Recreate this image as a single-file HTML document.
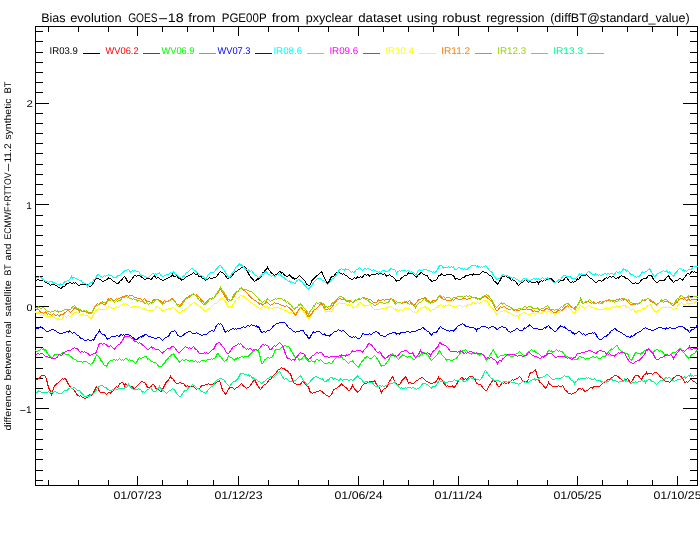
<!DOCTYPE html>
<html><head><meta charset="utf-8"><title>Bias evolution GOES-18</title>
<style>html,body{margin:0;padding:0;background:#fff;}svg{display:block;}text{font-family:"Liberation Sans",Arial,sans-serif;text-rendering:geometricPrecision;}</style>
</head><body>
<svg width="700" height="540" viewBox="0 0 700 540">
<rect width="700" height="540" fill="#fff"/>
<g shape-rendering="crispEdges">
<rect x="35" y="26" width="663" height="1" fill="#000"/>
<rect x="35" y="485" width="663" height="1" fill="#000"/>
<rect x="35" y="26" width="1" height="460" fill="#000"/>
<rect x="697" y="26" width="1" height="460" fill="#000"/>
<rect x="35" y="480" width="8" height="1" fill="#000"/>
<rect x="690" y="480" width="8" height="1" fill="#000"/>
<rect x="35" y="470" width="8" height="1" fill="#000"/>
<rect x="690" y="470" width="8" height="1" fill="#000"/>
<rect x="35" y="459" width="8" height="1" fill="#000"/>
<rect x="690" y="459" width="8" height="1" fill="#000"/>
<rect x="35" y="449" width="8" height="1" fill="#000"/>
<rect x="690" y="449" width="8" height="1" fill="#000"/>
<rect x="35" y="439" width="8" height="1" fill="#000"/>
<rect x="690" y="439" width="8" height="1" fill="#000"/>
<rect x="35" y="429" width="8" height="1" fill="#000"/>
<rect x="690" y="429" width="8" height="1" fill="#000"/>
<rect x="35" y="419" width="8" height="1" fill="#000"/>
<rect x="690" y="419" width="8" height="1" fill="#000"/>
<rect x="35" y="408" width="14" height="1" fill="#000"/>
<rect x="683" y="408" width="15" height="1" fill="#000"/>
<rect x="35" y="398" width="8" height="1" fill="#000"/>
<rect x="690" y="398" width="8" height="1" fill="#000"/>
<rect x="35" y="388" width="8" height="1" fill="#000"/>
<rect x="690" y="388" width="8" height="1" fill="#000"/>
<rect x="35" y="378" width="8" height="1" fill="#000"/>
<rect x="690" y="378" width="8" height="1" fill="#000"/>
<rect x="35" y="368" width="8" height="1" fill="#000"/>
<rect x="690" y="368" width="8" height="1" fill="#000"/>
<rect x="35" y="357" width="8" height="1" fill="#000"/>
<rect x="690" y="357" width="8" height="1" fill="#000"/>
<rect x="35" y="347" width="8" height="1" fill="#000"/>
<rect x="690" y="347" width="8" height="1" fill="#000"/>
<rect x="35" y="337" width="8" height="1" fill="#000"/>
<rect x="690" y="337" width="8" height="1" fill="#000"/>
<rect x="35" y="327" width="8" height="1" fill="#000"/>
<rect x="690" y="327" width="8" height="1" fill="#000"/>
<rect x="35" y="317" width="8" height="1" fill="#000"/>
<rect x="690" y="317" width="8" height="1" fill="#000"/>
<rect x="35" y="306" width="14" height="1" fill="#000"/>
<rect x="683" y="306" width="15" height="1" fill="#000"/>
<rect x="35" y="296" width="8" height="1" fill="#000"/>
<rect x="690" y="296" width="8" height="1" fill="#000"/>
<rect x="35" y="286" width="8" height="1" fill="#000"/>
<rect x="690" y="286" width="8" height="1" fill="#000"/>
<rect x="35" y="276" width="8" height="1" fill="#000"/>
<rect x="690" y="276" width="8" height="1" fill="#000"/>
<rect x="35" y="266" width="8" height="1" fill="#000"/>
<rect x="690" y="266" width="8" height="1" fill="#000"/>
<rect x="35" y="255" width="8" height="1" fill="#000"/>
<rect x="690" y="255" width="8" height="1" fill="#000"/>
<rect x="35" y="245" width="8" height="1" fill="#000"/>
<rect x="690" y="245" width="8" height="1" fill="#000"/>
<rect x="35" y="235" width="8" height="1" fill="#000"/>
<rect x="690" y="235" width="8" height="1" fill="#000"/>
<rect x="35" y="225" width="8" height="1" fill="#000"/>
<rect x="690" y="225" width="8" height="1" fill="#000"/>
<rect x="35" y="215" width="8" height="1" fill="#000"/>
<rect x="690" y="215" width="8" height="1" fill="#000"/>
<rect x="35" y="204" width="14" height="1" fill="#000"/>
<rect x="683" y="204" width="15" height="1" fill="#000"/>
<rect x="35" y="194" width="8" height="1" fill="#000"/>
<rect x="690" y="194" width="8" height="1" fill="#000"/>
<rect x="35" y="184" width="8" height="1" fill="#000"/>
<rect x="690" y="184" width="8" height="1" fill="#000"/>
<rect x="35" y="174" width="8" height="1" fill="#000"/>
<rect x="690" y="174" width="8" height="1" fill="#000"/>
<rect x="35" y="164" width="8" height="1" fill="#000"/>
<rect x="690" y="164" width="8" height="1" fill="#000"/>
<rect x="35" y="153" width="8" height="1" fill="#000"/>
<rect x="690" y="153" width="8" height="1" fill="#000"/>
<rect x="35" y="143" width="8" height="1" fill="#000"/>
<rect x="690" y="143" width="8" height="1" fill="#000"/>
<rect x="35" y="133" width="8" height="1" fill="#000"/>
<rect x="690" y="133" width="8" height="1" fill="#000"/>
<rect x="35" y="123" width="8" height="1" fill="#000"/>
<rect x="690" y="123" width="8" height="1" fill="#000"/>
<rect x="35" y="113" width="8" height="1" fill="#000"/>
<rect x="690" y="113" width="8" height="1" fill="#000"/>
<rect x="35" y="103" width="14" height="1" fill="#000"/>
<rect x="683" y="103" width="15" height="1" fill="#000"/>
<rect x="35" y="92" width="8" height="1" fill="#000"/>
<rect x="690" y="92" width="8" height="1" fill="#000"/>
<rect x="35" y="82" width="8" height="1" fill="#000"/>
<rect x="690" y="82" width="8" height="1" fill="#000"/>
<rect x="35" y="72" width="8" height="1" fill="#000"/>
<rect x="690" y="72" width="8" height="1" fill="#000"/>
<rect x="35" y="62" width="8" height="1" fill="#000"/>
<rect x="690" y="62" width="8" height="1" fill="#000"/>
<rect x="35" y="52" width="8" height="1" fill="#000"/>
<rect x="690" y="52" width="8" height="1" fill="#000"/>
<rect x="35" y="41" width="8" height="1" fill="#000"/>
<rect x="690" y="41" width="8" height="1" fill="#000"/>
<rect x="35" y="31" width="8" height="1" fill="#000"/>
<rect x="690" y="31" width="8" height="1" fill="#000"/>
<rect x="48" y="480" width="1" height="6" fill="#000"/>
<rect x="48" y="26" width="1" height="6" fill="#000"/>
<rect x="78" y="480" width="1" height="6" fill="#000"/>
<rect x="78" y="26" width="1" height="6" fill="#000"/>
<rect x="108" y="480" width="1" height="6" fill="#000"/>
<rect x="108" y="26" width="1" height="6" fill="#000"/>
<rect x="162" y="480" width="1" height="6" fill="#000"/>
<rect x="162" y="26" width="1" height="6" fill="#000"/>
<rect x="187" y="480" width="1" height="6" fill="#000"/>
<rect x="187" y="26" width="1" height="6" fill="#000"/>
<rect x="213" y="480" width="1" height="6" fill="#000"/>
<rect x="213" y="26" width="1" height="6" fill="#000"/>
<rect x="268" y="480" width="1" height="6" fill="#000"/>
<rect x="268" y="26" width="1" height="6" fill="#000"/>
<rect x="298" y="480" width="1" height="6" fill="#000"/>
<rect x="298" y="26" width="1" height="6" fill="#000"/>
<rect x="328" y="480" width="1" height="6" fill="#000"/>
<rect x="328" y="26" width="1" height="6" fill="#000"/>
<rect x="383" y="480" width="1" height="6" fill="#000"/>
<rect x="383" y="26" width="1" height="6" fill="#000"/>
<rect x="408" y="480" width="1" height="6" fill="#000"/>
<rect x="408" y="26" width="1" height="6" fill="#000"/>
<rect x="433" y="480" width="1" height="6" fill="#000"/>
<rect x="433" y="26" width="1" height="6" fill="#000"/>
<rect x="488" y="480" width="1" height="6" fill="#000"/>
<rect x="488" y="26" width="1" height="6" fill="#000"/>
<rect x="517" y="480" width="1" height="6" fill="#000"/>
<rect x="517" y="26" width="1" height="6" fill="#000"/>
<rect x="547" y="480" width="1" height="6" fill="#000"/>
<rect x="547" y="26" width="1" height="6" fill="#000"/>
<rect x="602" y="480" width="1" height="6" fill="#000"/>
<rect x="602" y="26" width="1" height="6" fill="#000"/>
<rect x="627" y="480" width="1" height="6" fill="#000"/>
<rect x="627" y="26" width="1" height="6" fill="#000"/>
<rect x="652" y="480" width="1" height="6" fill="#000"/>
<rect x="652" y="26" width="1" height="6" fill="#000"/>
<rect x="137" y="476" width="1" height="10" fill="#000"/>
<rect x="137" y="26" width="1" height="10" fill="#000"/>
<rect x="238" y="476" width="1" height="10" fill="#000"/>
<rect x="238" y="26" width="1" height="10" fill="#000"/>
<rect x="358" y="476" width="1" height="10" fill="#000"/>
<rect x="358" y="26" width="1" height="10" fill="#000"/>
<rect x="458" y="476" width="1" height="10" fill="#000"/>
<rect x="458" y="26" width="1" height="10" fill="#000"/>
<rect x="577" y="476" width="1" height="10" fill="#000"/>
<rect x="577" y="26" width="1" height="10" fill="#000"/>
<rect x="677" y="476" width="1" height="10" fill="#000"/>
<rect x="677" y="26" width="1" height="10" fill="#000"/>
</g>
<g>
<polyline points="35.5,279.5 36.5,280.5 37.5,279.5 38.5,279.5 39.5,280.5 40.5,280.5 41.5,280.5 42.5,280.5 43.5,279.5 44.5,280.5 45.5,282.5 46.5,282.5 47.5,283.5 48.5,283.5 49.5,284.5 50.5,285.5 51.5,284.5 52.5,284.5 53.5,284.5 54.5,284.5 55.5,285.5 56.5,285.5 57.5,286.5 58.5,287.5 59.5,287.5 60.5,288.5 61.5,288.5 62.5,286.5 63.5,286.5 64.5,286.5 65.5,285.5 66.5,283.5 67.5,283.5 68.5,283.5 69.5,282.5 70.5,282.5 71.5,283.5 72.5,283.5 73.5,282.5 74.5,283.5 75.5,282.5 76.5,283.5 77.5,284.5 78.5,285.5 79.5,285.5 80.5,284.5 81.5,284.5 82.5,284.5 83.5,284.5 84.5,284.5 85.5,284.5 86.5,284.5 87.5,284.5 88.5,285.5 89.5,286.5 90.5,286.5 91.5,285.5 92.5,284.5 93.5,282.5 94.5,281.5 95.5,278.5 96.5,278.5 97.5,278.5 98.5,278.5 99.5,279.5 100.5,279.5 101.5,280.5 102.5,281.5 103.5,281.5 104.5,280.5 105.5,280.5 106.5,279.5 107.5,279.5 108.5,277.5 109.5,278.5 110.5,278.5 111.5,279.5 112.5,280.5 113.5,281.5 114.5,281.5 115.5,282.5 116.5,283.5 117.5,283.5 118.5,283.5 119.5,281.5 120.5,280.5 121.5,280.5 122.5,278.5 123.5,277.5 124.5,276.5 125.5,277.5 126.5,279.5 127.5,281.5 128.5,282.5 129.5,282.5 130.5,280.5 131.5,279.5 132.5,278.5 133.5,276.5 134.5,275.5 135.5,275.5 136.5,276.5 137.5,275.5 138.5,275.5 139.5,275.5 140.5,275.5 141.5,277.5 142.5,277.5 143.5,278.5 144.5,279.5 145.5,279.5 146.5,278.5 147.5,278.5 148.5,278.5 149.5,278.5 150.5,279.5 151.5,279.5 152.5,277.5 153.5,276.5 154.5,275.5 155.5,277.5 156.5,278.5 157.5,277.5 158.5,277.5 159.5,278.5 160.5,279.5 161.5,279.5 162.5,280.5 163.5,280.5 164.5,279.5 165.5,279.5 166.5,278.5 167.5,278.5 168.5,277.5 169.5,277.5 170.5,276.5 171.5,276.5 172.5,274.5 173.5,276.5 174.5,276.5 175.5,276.5 176.5,275.5 177.5,276.5 178.5,278.5 179.5,278.5 180.5,278.5 181.5,280.5 182.5,279.5 183.5,279.5 184.5,278.5 185.5,277.5 186.5,276.5 187.5,276.5 188.5,275.5 189.5,275.5 190.5,274.5 191.5,274.5 192.5,273.5 193.5,272.5 194.5,273.5 195.5,274.5 196.5,274.5 197.5,273.5 198.5,276.5 199.5,276.5 200.5,275.5 201.5,277.5 202.5,278.5 203.5,278.5 204.5,279.5 205.5,280.5 206.5,279.5 207.5,279.5 208.5,278.5 209.5,277.5 210.5,278.5 211.5,278.5 212.5,278.5 213.5,277.5 214.5,277.5 215.5,277.5 216.5,276.5 217.5,275.5 218.5,273.5 219.5,272.5 220.5,271.5 221.5,272.5 222.5,272.5 223.5,273.5 224.5,274.5 225.5,275.5 226.5,277.5 227.5,278.5 228.5,278.5 229.5,277.5 230.5,277.5 231.5,276.5 232.5,275.5 233.5,273.5 234.5,272.5 235.5,271.5 236.5,271.5 237.5,270.5 238.5,269.5 239.5,269.5 240.5,268.5 241.5,267.5 242.5,267.5 243.5,266.5 244.5,266.5 245.5,267.5 246.5,269.5 247.5,271.5 248.5,273.5 249.5,275.5 250.5,276.5 251.5,278.5 252.5,278.5 253.5,280.5 254.5,281.5 255.5,280.5 256.5,280.5 257.5,278.5 258.5,279.5 259.5,277.5 260.5,277.5 261.5,275.5 262.5,272.5 263.5,272.5 264.5,271.5 265.5,269.5 266.5,269.5 267.5,267.5 268.5,269.5 269.5,270.5 270.5,271.5 271.5,273.5 272.5,273.5 273.5,274.5 274.5,275.5 275.5,274.5 276.5,274.5 277.5,273.5 278.5,272.5 279.5,271.5 280.5,271.5 281.5,273.5 282.5,272.5 283.5,273.5 284.5,275.5 285.5,275.5 286.5,276.5 287.5,276.5 288.5,275.5 289.5,274.5 290.5,276.5 291.5,276.5 292.5,278.5 293.5,277.5 294.5,279.5 295.5,278.5 296.5,278.5 297.5,277.5 298.5,276.5 299.5,275.5 300.5,276.5 301.5,277.5 302.5,278.5 303.5,279.5 304.5,280.5 305.5,281.5 306.5,284.5 307.5,284.5 308.5,285.5 309.5,285.5 310.5,284.5 311.5,281.5 312.5,279.5 313.5,279.5 314.5,277.5 315.5,277.5 316.5,275.5 317.5,275.5 318.5,274.5 319.5,273.5 320.5,272.5 321.5,271.5 322.5,273.5 323.5,276.5 324.5,277.5 325.5,280.5 326.5,281.5 327.5,283.5 328.5,282.5 329.5,280.5 330.5,278.5 331.5,276.5 332.5,276.5 333.5,276.5 334.5,275.5 335.5,273.5 336.5,272.5 337.5,272.5 338.5,271.5 339.5,272.5 340.5,273.5 341.5,273.5 342.5,274.5 343.5,273.5 344.5,274.5 345.5,275.5 346.5,275.5 347.5,276.5 348.5,277.5 349.5,278.5 350.5,278.5 351.5,279.5 352.5,279.5 353.5,278.5 354.5,277.5 355.5,278.5 356.5,278.5 357.5,276.5 358.5,277.5 359.5,277.5 360.5,276.5 361.5,277.5 362.5,277.5 363.5,275.5 364.5,274.5 365.5,274.5 366.5,275.5 367.5,274.5 368.5,274.5 369.5,276.5 370.5,275.5 371.5,274.5 372.5,274.5 373.5,274.5 374.5,274.5 375.5,274.5 376.5,273.5 377.5,273.5 378.5,274.5 379.5,273.5 380.5,273.5 381.5,273.5 382.5,274.5 383.5,274.5 384.5,273.5 385.5,274.5 386.5,276.5 387.5,275.5 388.5,275.5 389.5,274.5 390.5,275.5 391.5,276.5 392.5,276.5 393.5,277.5 394.5,278.5 395.5,279.5 396.5,281.5 397.5,280.5 398.5,280.5 399.5,280.5 400.5,279.5 401.5,277.5 402.5,277.5 403.5,276.5 404.5,275.5 405.5,275.5 406.5,275.5 407.5,274.5 408.5,272.5 409.5,273.5 410.5,273.5 411.5,273.5 412.5,273.5 413.5,274.5 414.5,275.5 415.5,276.5 416.5,277.5 417.5,275.5 418.5,274.5 419.5,274.5 420.5,272.5 421.5,272.5 422.5,273.5 423.5,274.5 424.5,274.5 425.5,275.5 426.5,275.5 427.5,275.5 428.5,278.5 429.5,279.5 430.5,279.5 431.5,281.5 432.5,281.5 433.5,280.5 434.5,280.5 435.5,280.5 436.5,279.5 437.5,278.5 438.5,275.5 439.5,275.5 440.5,275.5 441.5,273.5 442.5,274.5 443.5,275.5 444.5,275.5 445.5,275.5 446.5,274.5 447.5,274.5 448.5,274.5 449.5,274.5 450.5,274.5 451.5,274.5 452.5,275.5 453.5,275.5 454.5,277.5 455.5,279.5 456.5,278.5 457.5,278.5 458.5,279.5 459.5,279.5 460.5,279.5 461.5,278.5 462.5,277.5 463.5,277.5 464.5,277.5 465.5,275.5 466.5,275.5 467.5,275.5 468.5,275.5 469.5,274.5 470.5,274.5 471.5,274.5 472.5,275.5 473.5,273.5 474.5,274.5 475.5,274.5 476.5,274.5 477.5,274.5 478.5,274.5 479.5,274.5 480.5,273.5 481.5,272.5 482.5,271.5 483.5,271.5 484.5,272.5 485.5,272.5 486.5,272.5 487.5,273.5 488.5,274.5 489.5,275.5 490.5,275.5 491.5,276.5 492.5,277.5 493.5,280.5 494.5,281.5 495.5,281.5 496.5,283.5 497.5,284.5 498.5,282.5 499.5,281.5 500.5,279.5 501.5,277.5 502.5,276.5 503.5,276.5 504.5,276.5 505.5,275.5 506.5,276.5 507.5,277.5 508.5,277.5 509.5,277.5 510.5,279.5 511.5,280.5 512.5,279.5 513.5,280.5 514.5,280.5 515.5,281.5 516.5,282.5 517.5,284.5 518.5,285.5 519.5,284.5 520.5,283.5 521.5,282.5 522.5,282.5 523.5,281.5 524.5,280.5 525.5,279.5 526.5,280.5 527.5,281.5 528.5,282.5 529.5,281.5 530.5,281.5 531.5,282.5 532.5,282.5 533.5,282.5 534.5,282.5 535.5,282.5 536.5,281.5 537.5,281.5 538.5,283.5 539.5,281.5 540.5,281.5 541.5,280.5 542.5,281.5 543.5,280.5 544.5,279.5 545.5,280.5 546.5,279.5 547.5,279.5 548.5,279.5 549.5,278.5 550.5,278.5 551.5,278.5 552.5,280.5 553.5,280.5 554.5,282.5 555.5,282.5 556.5,281.5 557.5,281.5 558.5,282.5 559.5,281.5 560.5,280.5 561.5,280.5 562.5,280.5 563.5,280.5 564.5,278.5 565.5,277.5 566.5,277.5 567.5,278.5 568.5,280.5 569.5,281.5 570.5,282.5 571.5,282.5 572.5,281.5 573.5,282.5 574.5,281.5 575.5,281.5 576.5,280.5 577.5,278.5 578.5,279.5 579.5,278.5 580.5,276.5 581.5,275.5 582.5,275.5 583.5,275.5 584.5,275.5 585.5,275.5 586.5,274.5 587.5,275.5 588.5,276.5 589.5,277.5 590.5,278.5 591.5,278.5 592.5,279.5 593.5,280.5 594.5,281.5 595.5,282.5 596.5,282.5 597.5,281.5 598.5,280.5 599.5,280.5 600.5,280.5 601.5,281.5 602.5,280.5 603.5,280.5 604.5,278.5 605.5,278.5 606.5,277.5 607.5,278.5 608.5,277.5 609.5,276.5 610.5,276.5 611.5,277.5 612.5,276.5 613.5,276.5 614.5,277.5 615.5,278.5 616.5,278.5 617.5,277.5 618.5,278.5 619.5,276.5 620.5,276.5 621.5,275.5 622.5,276.5 623.5,276.5 624.5,276.5 625.5,278.5 626.5,278.5 627.5,278.5 628.5,279.5 629.5,280.5 630.5,281.5 631.5,282.5 632.5,283.5 633.5,283.5 634.5,283.5 635.5,282.5 636.5,283.5 637.5,283.5 638.5,283.5 639.5,282.5 640.5,281.5 641.5,279.5 642.5,279.5 643.5,278.5 644.5,278.5 645.5,278.5 646.5,278.5 647.5,276.5 648.5,275.5 649.5,275.5 650.5,275.5 651.5,275.5 652.5,277.5 653.5,279.5 654.5,280.5 655.5,281.5 656.5,282.5 657.5,282.5 658.5,281.5 659.5,280.5 660.5,280.5 661.5,280.5 662.5,280.5 663.5,280.5 664.5,280.5 665.5,278.5 666.5,277.5 667.5,276.5 668.5,275.5 669.5,277.5 670.5,279.5 671.5,279.5 672.5,281.5 673.5,282.5 674.5,281.5 675.5,280.5 676.5,280.5 677.5,280.5 678.5,279.5 679.5,278.5 680.5,278.5 681.5,279.5 682.5,280.5 683.5,278.5 684.5,277.5 685.5,276.5 686.5,274.5 687.5,273.5 688.5,273.5 689.5,274.5 690.5,273.5 691.5,271.5 692.5,271.5 693.5,272.5 694.5,271.5 695.5,272.5 696.5,272.5 697.5,272.5" fill="none" stroke="#000000" stroke-width="1" shape-rendering="crispEdges"/>
<polyline points="35.5,380.5 36.5,379.5 37.5,379.5 38.5,378.5 39.5,378.5 40.5,376.5 41.5,375.5 42.5,375.5 43.5,375.5 44.5,375.5 45.5,376.5 46.5,379.5 47.5,383.5 48.5,387.5 49.5,389.5 50.5,391.5 51.5,395.5 52.5,391.5 53.5,388.5 54.5,385.5 55.5,385.5 56.5,383.5 57.5,383.5 58.5,382.5 59.5,381.5 60.5,380.5 61.5,379.5 62.5,378.5 63.5,379.5 64.5,378.5 65.5,378.5 66.5,380.5 67.5,382.5 68.5,384.5 69.5,385.5 70.5,387.5 71.5,388.5 72.5,388.5 73.5,389.5 74.5,390.5 75.5,392.5 76.5,393.5 77.5,395.5 78.5,395.5 79.5,396.5 80.5,395.5 81.5,396.5 82.5,397.5 83.5,397.5 84.5,398.5 85.5,398.5 86.5,397.5 87.5,397.5 88.5,396.5 89.5,394.5 90.5,395.5 91.5,395.5 92.5,394.5 93.5,392.5 94.5,390.5 95.5,388.5 96.5,386.5 97.5,387.5 98.5,389.5 99.5,391.5 100.5,392.5 101.5,392.5 102.5,392.5 103.5,392.5 104.5,392.5 105.5,393.5 106.5,394.5 107.5,393.5 108.5,392.5 109.5,392.5 110.5,393.5 111.5,391.5 112.5,391.5 113.5,390.5 114.5,388.5 115.5,387.5 116.5,386.5 117.5,387.5 118.5,386.5 119.5,383.5 120.5,383.5 121.5,382.5 122.5,382.5 123.5,383.5 124.5,385.5 125.5,383.5 126.5,384.5 127.5,385.5 128.5,385.5 129.5,385.5 130.5,386.5 131.5,386.5 132.5,386.5 133.5,388.5 134.5,388.5 135.5,387.5 136.5,386.5 137.5,385.5 138.5,384.5 139.5,383.5 140.5,382.5 141.5,381.5 142.5,381.5 143.5,382.5 144.5,382.5 145.5,383.5 146.5,385.5 147.5,387.5 148.5,387.5 149.5,387.5 150.5,387.5 151.5,385.5 152.5,384.5 153.5,384.5 154.5,385.5 155.5,387.5 156.5,389.5 157.5,389.5 158.5,389.5 159.5,390.5 160.5,391.5 161.5,391.5 162.5,389.5 163.5,387.5 164.5,385.5 165.5,383.5 166.5,381.5 167.5,381.5 168.5,379.5 169.5,378.5 170.5,376.5 171.5,378.5 172.5,378.5 173.5,379.5 174.5,381.5 175.5,382.5 176.5,383.5 177.5,383.5 178.5,383.5 179.5,382.5 180.5,382.5 181.5,383.5 182.5,383.5 183.5,383.5 184.5,384.5 185.5,386.5 186.5,386.5 187.5,385.5 188.5,386.5 189.5,386.5 190.5,386.5 191.5,386.5 192.5,386.5 193.5,386.5 194.5,387.5 195.5,388.5 196.5,389.5 197.5,388.5 198.5,388.5 199.5,388.5 200.5,387.5 201.5,385.5 202.5,385.5 203.5,385.5 204.5,385.5 205.5,384.5 206.5,384.5 207.5,384.5 208.5,383.5 209.5,384.5 210.5,384.5 211.5,384.5 212.5,384.5 213.5,383.5 214.5,382.5 215.5,383.5 216.5,382.5 217.5,381.5 218.5,381.5 219.5,380.5 220.5,383.5 221.5,386.5 222.5,390.5 223.5,391.5 224.5,392.5 225.5,394.5 226.5,393.5 227.5,390.5 228.5,389.5 229.5,387.5 230.5,387.5 231.5,387.5 232.5,387.5 233.5,388.5 234.5,389.5 235.5,388.5 236.5,387.5 237.5,387.5 238.5,386.5 239.5,385.5 240.5,384.5 241.5,383.5 242.5,384.5 243.5,386.5 244.5,386.5 245.5,387.5 246.5,388.5 247.5,387.5 248.5,387.5 249.5,386.5 250.5,385.5 251.5,383.5 252.5,382.5 253.5,380.5 254.5,379.5 255.5,381.5 256.5,383.5 257.5,385.5 258.5,386.5 259.5,388.5 260.5,389.5 261.5,388.5 262.5,386.5 263.5,385.5 264.5,384.5 265.5,384.5 266.5,383.5 267.5,382.5 268.5,380.5 269.5,379.5 270.5,379.5 271.5,378.5 272.5,376.5 273.5,375.5 274.5,374.5 275.5,373.5 276.5,372.5 277.5,370.5 278.5,369.5 279.5,369.5 280.5,368.5 281.5,367.5 282.5,368.5 283.5,368.5 284.5,368.5 285.5,370.5 286.5,370.5 287.5,370.5 288.5,372.5 289.5,373.5 290.5,373.5 291.5,377.5 292.5,379.5 293.5,382.5 294.5,383.5 295.5,383.5 296.5,384.5 297.5,384.5 298.5,384.5 299.5,384.5 300.5,384.5 301.5,382.5 302.5,381.5 303.5,381.5 304.5,383.5 305.5,384.5 306.5,385.5 307.5,386.5 308.5,386.5 309.5,390.5 310.5,392.5 311.5,392.5 312.5,393.5 313.5,392.5 314.5,392.5 315.5,392.5 316.5,391.5 317.5,391.5 318.5,391.5 319.5,390.5 320.5,390.5 321.5,391.5 322.5,391.5 323.5,393.5 324.5,393.5 325.5,394.5 326.5,395.5 327.5,395.5 328.5,396.5 329.5,396.5 330.5,395.5 331.5,394.5 332.5,392.5 333.5,389.5 334.5,389.5 335.5,388.5 336.5,388.5 337.5,387.5 338.5,386.5 339.5,386.5 340.5,384.5 341.5,383.5 342.5,385.5 343.5,385.5 344.5,386.5 345.5,387.5 346.5,387.5 347.5,389.5 348.5,390.5 349.5,390.5 350.5,389.5 351.5,387.5 352.5,385.5 353.5,387.5 354.5,388.5 355.5,390.5 356.5,390.5 357.5,392.5 358.5,391.5 359.5,390.5 360.5,389.5 361.5,386.5 362.5,385.5 363.5,384.5 364.5,383.5 365.5,383.5 366.5,383.5 367.5,382.5 368.5,382.5 369.5,381.5 370.5,381.5 371.5,381.5 372.5,381.5 373.5,381.5 374.5,380.5 375.5,382.5 376.5,384.5 377.5,385.5 378.5,386.5 379.5,387.5 380.5,390.5 381.5,392.5 382.5,390.5 383.5,389.5 384.5,388.5 385.5,388.5 386.5,387.5 387.5,385.5 388.5,383.5 389.5,380.5 390.5,380.5 391.5,377.5 392.5,376.5 393.5,378.5 394.5,381.5 395.5,382.5 396.5,383.5 397.5,384.5 398.5,384.5 399.5,384.5 400.5,383.5 401.5,381.5 402.5,379.5 403.5,379.5 404.5,377.5 405.5,376.5 406.5,378.5 407.5,380.5 408.5,383.5 409.5,382.5 410.5,382.5 411.5,383.5 412.5,383.5 413.5,383.5 414.5,382.5 415.5,381.5 416.5,380.5 417.5,380.5 418.5,379.5 419.5,378.5 420.5,378.5 421.5,377.5 422.5,377.5 423.5,378.5 424.5,379.5 425.5,380.5 426.5,381.5 427.5,381.5 428.5,382.5 429.5,382.5 430.5,383.5 431.5,383.5 432.5,383.5 433.5,382.5 434.5,382.5 435.5,382.5 436.5,380.5 437.5,379.5 438.5,377.5 439.5,379.5 440.5,378.5 441.5,379.5 442.5,380.5 443.5,383.5 444.5,383.5 445.5,385.5 446.5,386.5 447.5,385.5 448.5,386.5 449.5,386.5 450.5,386.5 451.5,386.5 452.5,385.5 453.5,387.5 454.5,387.5 455.5,385.5 456.5,384.5 457.5,382.5 458.5,380.5 459.5,379.5 460.5,378.5 461.5,377.5 462.5,377.5 463.5,379.5 464.5,379.5 465.5,378.5 466.5,379.5 467.5,378.5 468.5,377.5 469.5,376.5 470.5,376.5 471.5,376.5 472.5,376.5 473.5,377.5 474.5,378.5 475.5,380.5 476.5,383.5 477.5,383.5 478.5,384.5 479.5,384.5 480.5,384.5 481.5,385.5 482.5,387.5 483.5,388.5 484.5,389.5 485.5,390.5 486.5,390.5 487.5,389.5 488.5,386.5 489.5,385.5 490.5,383.5 491.5,382.5 492.5,380.5 493.5,380.5 494.5,381.5 495.5,380.5 496.5,383.5 497.5,385.5 498.5,386.5 499.5,386.5 500.5,385.5 501.5,383.5 502.5,382.5 503.5,383.5 504.5,382.5 505.5,383.5 506.5,383.5 507.5,382.5 508.5,383.5 509.5,381.5 510.5,381.5 511.5,380.5 512.5,379.5 513.5,380.5 514.5,379.5 515.5,379.5 516.5,378.5 517.5,378.5 518.5,377.5 519.5,376.5 520.5,377.5 521.5,378.5 522.5,381.5 523.5,381.5 524.5,381.5 525.5,381.5 526.5,381.5 527.5,381.5 528.5,378.5 529.5,374.5 530.5,372.5 531.5,372.5 532.5,372.5 533.5,371.5 534.5,370.5 535.5,369.5 536.5,373.5 537.5,376.5 538.5,378.5 539.5,382.5 540.5,382.5 541.5,383.5 542.5,384.5 543.5,385.5 544.5,387.5 545.5,388.5 546.5,386.5 547.5,385.5 548.5,382.5 549.5,384.5 550.5,384.5 551.5,385.5 552.5,386.5 553.5,386.5 554.5,386.5 555.5,386.5 556.5,386.5 557.5,386.5 558.5,385.5 559.5,386.5 560.5,386.5 561.5,386.5 562.5,385.5 563.5,386.5 564.5,389.5 565.5,390.5 566.5,390.5 567.5,392.5 568.5,393.5 569.5,393.5 570.5,393.5 571.5,394.5 572.5,393.5 573.5,393.5 574.5,392.5 575.5,392.5 576.5,391.5 577.5,390.5 578.5,388.5 579.5,388.5 580.5,388.5 581.5,389.5 582.5,388.5 583.5,389.5 584.5,391.5 585.5,391.5 586.5,390.5 587.5,390.5 588.5,389.5 589.5,388.5 590.5,387.5 591.5,387.5 592.5,388.5 593.5,386.5 594.5,386.5 595.5,386.5 596.5,386.5 597.5,386.5 598.5,386.5 599.5,386.5 600.5,385.5 601.5,384.5 602.5,383.5 603.5,382.5 604.5,382.5 605.5,381.5 606.5,380.5 607.5,379.5 608.5,379.5 609.5,379.5 610.5,379.5 611.5,377.5 612.5,377.5 613.5,376.5 614.5,375.5 615.5,375.5 616.5,375.5 617.5,376.5 618.5,376.5 619.5,378.5 620.5,378.5 621.5,379.5 622.5,380.5 623.5,380.5 624.5,379.5 625.5,379.5 626.5,379.5 627.5,378.5 628.5,379.5 629.5,381.5 630.5,382.5 631.5,381.5 632.5,380.5 633.5,378.5 634.5,376.5 635.5,375.5 636.5,375.5 637.5,375.5 638.5,375.5 639.5,377.5 640.5,378.5 641.5,379.5 642.5,377.5 643.5,375.5 644.5,374.5 645.5,374.5 646.5,372.5 647.5,374.5 648.5,373.5 649.5,373.5 650.5,373.5 651.5,373.5 652.5,374.5 653.5,373.5 654.5,372.5 655.5,372.5 656.5,372.5 657.5,373.5 658.5,374.5 659.5,375.5 660.5,377.5 661.5,377.5 662.5,378.5 663.5,379.5 664.5,380.5 665.5,381.5 666.5,381.5 667.5,381.5 668.5,381.5 669.5,382.5 670.5,381.5 671.5,380.5 672.5,379.5 673.5,377.5 674.5,377.5 675.5,376.5 676.5,375.5 677.5,375.5 678.5,375.5 679.5,375.5 680.5,376.5 681.5,376.5 682.5,378.5 683.5,379.5 684.5,382.5 685.5,382.5 686.5,381.5 687.5,382.5 688.5,381.5 689.5,380.5 690.5,379.5 691.5,379.5 692.5,380.5 693.5,381.5 694.5,381.5 695.5,382.5 696.5,383.5 697.5,384.5" fill="none" stroke="#ff0000" stroke-width="1" shape-rendering="crispEdges"/>
<polyline points="35.5,350.5 36.5,351.5 37.5,351.5 38.5,350.5 39.5,350.5 40.5,349.5 41.5,348.5 42.5,349.5 43.5,348.5 44.5,350.5 45.5,349.5 46.5,351.5 47.5,353.5 48.5,354.5 49.5,356.5 50.5,356.5 51.5,358.5 52.5,357.5 53.5,356.5 54.5,354.5 55.5,354.5 56.5,354.5 57.5,354.5 58.5,355.5 59.5,354.5 60.5,354.5 61.5,353.5 62.5,352.5 63.5,352.5 64.5,353.5 65.5,354.5 66.5,354.5 67.5,354.5 68.5,354.5 69.5,355.5 70.5,356.5 71.5,356.5 72.5,358.5 73.5,358.5 74.5,359.5 75.5,359.5 76.5,360.5 77.5,361.5 78.5,361.5 79.5,361.5 80.5,361.5 81.5,361.5 82.5,362.5 83.5,361.5 84.5,361.5 85.5,361.5 86.5,361.5 87.5,362.5 88.5,363.5 89.5,363.5 90.5,364.5 91.5,363.5 92.5,363.5 93.5,361.5 94.5,359.5 95.5,357.5 96.5,354.5 97.5,355.5 98.5,356.5 99.5,357.5 100.5,359.5 101.5,361.5 102.5,361.5 103.5,364.5 104.5,365.5 105.5,365.5 106.5,366.5 107.5,364.5 108.5,362.5 109.5,361.5 110.5,360.5 111.5,360.5 112.5,360.5 113.5,359.5 114.5,359.5 115.5,360.5 116.5,359.5 117.5,360.5 118.5,359.5 119.5,358.5 120.5,359.5 121.5,360.5 122.5,359.5 123.5,360.5 124.5,359.5 125.5,358.5 126.5,358.5 127.5,359.5 128.5,360.5 129.5,359.5 130.5,360.5 131.5,360.5 132.5,360.5 133.5,361.5 134.5,362.5 135.5,363.5 136.5,362.5 137.5,360.5 138.5,358.5 139.5,357.5 140.5,358.5 141.5,358.5 142.5,357.5 143.5,357.5 144.5,356.5 145.5,356.5 146.5,356.5 147.5,359.5 148.5,358.5 149.5,359.5 150.5,360.5 151.5,361.5 152.5,361.5 153.5,362.5 154.5,362.5 155.5,362.5 156.5,363.5 157.5,364.5 158.5,366.5 159.5,366.5 160.5,366.5 161.5,366.5 162.5,365.5 163.5,363.5 164.5,363.5 165.5,361.5 166.5,359.5 167.5,359.5 168.5,357.5 169.5,356.5 170.5,356.5 171.5,354.5 172.5,354.5 173.5,353.5 174.5,355.5 175.5,357.5 176.5,357.5 177.5,359.5 178.5,360.5 179.5,362.5 180.5,361.5 181.5,360.5 182.5,359.5 183.5,360.5 184.5,360.5 185.5,359.5 186.5,359.5 187.5,360.5 188.5,360.5 189.5,361.5 190.5,360.5 191.5,360.5 192.5,360.5 193.5,361.5 194.5,361.5 195.5,360.5 196.5,361.5 197.5,362.5 198.5,361.5 199.5,362.5 200.5,361.5 201.5,360.5 202.5,360.5 203.5,360.5 204.5,360.5 205.5,361.5 206.5,360.5 207.5,359.5 208.5,359.5 209.5,359.5 210.5,359.5 211.5,358.5 212.5,359.5 213.5,358.5 214.5,358.5 215.5,357.5 216.5,355.5 217.5,353.5 218.5,353.5 219.5,356.5 220.5,356.5 221.5,357.5 222.5,359.5 223.5,360.5 224.5,361.5 225.5,360.5 226.5,360.5 227.5,358.5 228.5,355.5 229.5,356.5 230.5,357.5 231.5,357.5 232.5,358.5 233.5,359.5 234.5,360.5 235.5,358.5 236.5,359.5 237.5,357.5 238.5,358.5 239.5,357.5 240.5,357.5 241.5,356.5 242.5,356.5 243.5,357.5 244.5,356.5 245.5,356.5 246.5,356.5 247.5,356.5 248.5,356.5 249.5,354.5 250.5,354.5 251.5,352.5 252.5,352.5 253.5,350.5 254.5,349.5 255.5,349.5 256.5,350.5 257.5,350.5 258.5,350.5 259.5,354.5 260.5,358.5 261.5,363.5 262.5,363.5 263.5,362.5 264.5,359.5 265.5,359.5 266.5,358.5 267.5,357.5 268.5,357.5 269.5,358.5 270.5,357.5 271.5,357.5 272.5,356.5 273.5,354.5 274.5,351.5 275.5,349.5 276.5,349.5 277.5,349.5 278.5,349.5 279.5,349.5 280.5,348.5 281.5,347.5 282.5,347.5 283.5,346.5 284.5,345.5 285.5,345.5 286.5,346.5 287.5,346.5 288.5,346.5 289.5,347.5 290.5,349.5 291.5,351.5 292.5,352.5 293.5,354.5 294.5,356.5 295.5,357.5 296.5,356.5 297.5,357.5 298.5,358.5 299.5,360.5 300.5,359.5 301.5,359.5 302.5,357.5 303.5,356.5 304.5,356.5 305.5,357.5 306.5,359.5 307.5,359.5 308.5,361.5 309.5,361.5 310.5,361.5 311.5,360.5 312.5,361.5 313.5,361.5 314.5,362.5 315.5,360.5 316.5,359.5 317.5,359.5 318.5,360.5 319.5,360.5 320.5,359.5 321.5,360.5 322.5,361.5 323.5,362.5 324.5,363.5 325.5,363.5 326.5,363.5 327.5,363.5 328.5,362.5 329.5,362.5 330.5,363.5 331.5,363.5 332.5,362.5 333.5,360.5 334.5,359.5 335.5,358.5 336.5,357.5 337.5,356.5 338.5,357.5 339.5,357.5 340.5,357.5 341.5,356.5 342.5,358.5 343.5,359.5 344.5,359.5 345.5,360.5 346.5,361.5 347.5,362.5 348.5,363.5 349.5,362.5 350.5,361.5 351.5,361.5 352.5,360.5 353.5,362.5 354.5,363.5 355.5,364.5 356.5,365.5 357.5,366.5 358.5,367.5 359.5,365.5 360.5,363.5 361.5,362.5 362.5,360.5 363.5,360.5 364.5,357.5 365.5,358.5 366.5,356.5 367.5,356.5 368.5,357.5 369.5,358.5 370.5,358.5 371.5,358.5 372.5,357.5 373.5,356.5 374.5,355.5 375.5,356.5 376.5,357.5 377.5,359.5 378.5,360.5 379.5,362.5 380.5,364.5 381.5,366.5 382.5,365.5 383.5,365.5 384.5,365.5 385.5,364.5 386.5,362.5 387.5,361.5 388.5,360.5 389.5,358.5 390.5,355.5 391.5,354.5 392.5,353.5 393.5,355.5 394.5,356.5 395.5,356.5 396.5,357.5 397.5,358.5 398.5,359.5 399.5,358.5 400.5,356.5 401.5,356.5 402.5,354.5 403.5,355.5 404.5,355.5 405.5,356.5 406.5,356.5 407.5,357.5 408.5,356.5 409.5,356.5 410.5,356.5 411.5,357.5 412.5,358.5 413.5,359.5 414.5,359.5 415.5,358.5 416.5,357.5 417.5,356.5 418.5,356.5 419.5,356.5 420.5,354.5 421.5,353.5 422.5,354.5 423.5,352.5 424.5,352.5 425.5,353.5 426.5,354.5 427.5,354.5 428.5,355.5 429.5,357.5 430.5,359.5 431.5,360.5 432.5,359.5 433.5,358.5 434.5,357.5 435.5,356.5 436.5,355.5 437.5,354.5 438.5,352.5 439.5,350.5 440.5,351.5 441.5,354.5 442.5,355.5 443.5,356.5 444.5,357.5 445.5,358.5 446.5,360.5 447.5,359.5 448.5,359.5 449.5,359.5 450.5,360.5 451.5,360.5 452.5,360.5 453.5,359.5 454.5,359.5 455.5,358.5 456.5,358.5 457.5,356.5 458.5,355.5 459.5,354.5 460.5,352.5 461.5,351.5 462.5,350.5 463.5,350.5 464.5,350.5 465.5,349.5 466.5,350.5 467.5,351.5 468.5,352.5 469.5,353.5 470.5,353.5 471.5,354.5 472.5,352.5 473.5,353.5 474.5,352.5 475.5,353.5 476.5,353.5 477.5,354.5 478.5,353.5 479.5,355.5 480.5,354.5 481.5,354.5 482.5,354.5 483.5,354.5 484.5,356.5 485.5,358.5 486.5,360.5 487.5,359.5 488.5,357.5 489.5,356.5 490.5,353.5 491.5,353.5 492.5,350.5 493.5,349.5 494.5,352.5 495.5,353.5 496.5,355.5 497.5,357.5 498.5,357.5 499.5,356.5 500.5,355.5 501.5,355.5 502.5,355.5 503.5,355.5 504.5,354.5 505.5,354.5 506.5,354.5 507.5,355.5 508.5,355.5 509.5,355.5 510.5,356.5 511.5,356.5 512.5,356.5 513.5,356.5 514.5,355.5 515.5,354.5 516.5,353.5 517.5,353.5 518.5,352.5 519.5,351.5 520.5,352.5 521.5,353.5 522.5,354.5 523.5,355.5 524.5,356.5 525.5,355.5 526.5,354.5 527.5,352.5 528.5,351.5 529.5,351.5 530.5,350.5 531.5,349.5 532.5,350.5 533.5,351.5 534.5,350.5 535.5,352.5 536.5,352.5 537.5,353.5 538.5,353.5 539.5,354.5 540.5,355.5 541.5,356.5 542.5,356.5 543.5,356.5 544.5,355.5 545.5,356.5 546.5,354.5 547.5,352.5 548.5,350.5 549.5,350.5 550.5,351.5 551.5,350.5 552.5,352.5 553.5,351.5 554.5,351.5 555.5,350.5 556.5,349.5 557.5,350.5 558.5,351.5 559.5,350.5 560.5,351.5 561.5,351.5 562.5,351.5 563.5,353.5 564.5,354.5 565.5,356.5 566.5,356.5 567.5,356.5 568.5,357.5 569.5,357.5 570.5,357.5 571.5,357.5 572.5,358.5 573.5,358.5 574.5,359.5 575.5,359.5 576.5,359.5 577.5,359.5 578.5,357.5 579.5,356.5 580.5,356.5 581.5,357.5 582.5,357.5 583.5,357.5 584.5,358.5 585.5,359.5 586.5,358.5 587.5,358.5 588.5,358.5 589.5,358.5 590.5,357.5 591.5,357.5 592.5,356.5 593.5,356.5 594.5,357.5 595.5,357.5 596.5,356.5 597.5,357.5 598.5,358.5 599.5,358.5 600.5,358.5 601.5,357.5 602.5,356.5 603.5,356.5 604.5,356.5 605.5,356.5 606.5,354.5 607.5,353.5 608.5,351.5 609.5,350.5 610.5,350.5 611.5,348.5 612.5,349.5 613.5,348.5 614.5,347.5 615.5,346.5 616.5,345.5 617.5,345.5 618.5,348.5 619.5,349.5 620.5,350.5 621.5,351.5 622.5,351.5 623.5,352.5 624.5,352.5 625.5,353.5 626.5,353.5 627.5,353.5 628.5,355.5 629.5,358.5 630.5,359.5 631.5,360.5 632.5,358.5 633.5,356.5 634.5,354.5 635.5,352.5 636.5,352.5 637.5,353.5 638.5,353.5 639.5,353.5 640.5,354.5 641.5,352.5 642.5,353.5 643.5,351.5 644.5,350.5 645.5,350.5 646.5,350.5 647.5,349.5 648.5,349.5 649.5,350.5 650.5,351.5 651.5,352.5 652.5,353.5 653.5,352.5 654.5,350.5 655.5,350.5 656.5,349.5 657.5,349.5 658.5,350.5 659.5,351.5 660.5,350.5 661.5,351.5 662.5,351.5 663.5,353.5 664.5,354.5 665.5,354.5 666.5,354.5 667.5,355.5 668.5,355.5 669.5,355.5 670.5,354.5 671.5,354.5 672.5,352.5 673.5,352.5 674.5,352.5 675.5,352.5 676.5,351.5 677.5,350.5 678.5,349.5 679.5,348.5 680.5,348.5 681.5,349.5 682.5,351.5 683.5,352.5 684.5,353.5 685.5,354.5 686.5,356.5 687.5,356.5 688.5,358.5 689.5,357.5 690.5,356.5 691.5,354.5 692.5,354.5 693.5,353.5 694.5,353.5 695.5,352.5 696.5,350.5 697.5,350.5" fill="none" stroke="#00ff00" stroke-width="1" shape-rendering="crispEdges"/>
<polyline points="35.5,329.5 36.5,328.5 37.5,328.5 38.5,328.5 39.5,327.5 40.5,326.5 41.5,327.5 42.5,328.5 43.5,328.5 44.5,329.5 45.5,330.5 46.5,331.5 47.5,331.5 48.5,331.5 49.5,330.5 50.5,330.5 51.5,329.5 52.5,329.5 53.5,329.5 54.5,330.5 55.5,330.5 56.5,331.5 57.5,332.5 58.5,332.5 59.5,333.5 60.5,333.5 61.5,333.5 62.5,333.5 63.5,332.5 64.5,332.5 65.5,332.5 66.5,331.5 67.5,331.5 68.5,332.5 69.5,330.5 70.5,331.5 71.5,332.5 72.5,333.5 73.5,332.5 74.5,332.5 75.5,333.5 76.5,334.5 77.5,335.5 78.5,335.5 79.5,336.5 80.5,338.5 81.5,338.5 82.5,338.5 83.5,339.5 84.5,340.5 85.5,340.5 86.5,340.5 87.5,339.5 88.5,339.5 89.5,340.5 90.5,340.5 91.5,340.5 92.5,339.5 93.5,340.5 94.5,338.5 95.5,336.5 96.5,334.5 97.5,333.5 98.5,332.5 99.5,330.5 100.5,332.5 101.5,333.5 102.5,334.5 103.5,334.5 104.5,334.5 105.5,336.5 106.5,337.5 107.5,339.5 108.5,338.5 109.5,338.5 110.5,337.5 111.5,336.5 112.5,336.5 113.5,336.5 114.5,336.5 115.5,336.5 116.5,335.5 117.5,335.5 118.5,336.5 119.5,336.5 120.5,334.5 121.5,334.5 122.5,335.5 123.5,334.5 124.5,335.5 125.5,334.5 126.5,334.5 127.5,334.5 128.5,334.5 129.5,335.5 130.5,335.5 131.5,336.5 132.5,337.5 133.5,337.5 134.5,339.5 135.5,339.5 136.5,339.5 137.5,339.5 138.5,337.5 139.5,337.5 140.5,336.5 141.5,337.5 142.5,335.5 143.5,336.5 144.5,334.5 145.5,334.5 146.5,334.5 147.5,335.5 148.5,336.5 149.5,336.5 150.5,336.5 151.5,337.5 152.5,337.5 153.5,337.5 154.5,338.5 155.5,338.5 156.5,338.5 157.5,337.5 158.5,337.5 159.5,337.5 160.5,338.5 161.5,339.5 162.5,340.5 163.5,339.5 164.5,338.5 165.5,337.5 166.5,337.5 167.5,336.5 168.5,336.5 169.5,334.5 170.5,332.5 171.5,331.5 172.5,331.5 173.5,331.5 174.5,330.5 175.5,331.5 176.5,332.5 177.5,335.5 178.5,335.5 179.5,336.5 180.5,336.5 181.5,336.5 182.5,335.5 183.5,335.5 184.5,333.5 185.5,333.5 186.5,332.5 187.5,332.5 188.5,331.5 189.5,331.5 190.5,331.5 191.5,332.5 192.5,333.5 193.5,333.5 194.5,333.5 195.5,333.5 196.5,332.5 197.5,333.5 198.5,333.5 199.5,334.5 200.5,334.5 201.5,335.5 202.5,335.5 203.5,334.5 204.5,334.5 205.5,334.5 206.5,334.5 207.5,333.5 208.5,332.5 209.5,331.5 210.5,331.5 211.5,330.5 212.5,330.5 213.5,331.5 214.5,330.5 215.5,327.5 216.5,325.5 217.5,324.5 218.5,323.5 219.5,324.5 220.5,323.5 221.5,324.5 222.5,325.5 223.5,328.5 224.5,330.5 225.5,332.5 226.5,331.5 227.5,330.5 228.5,331.5 229.5,330.5 230.5,329.5 231.5,329.5 232.5,328.5 233.5,328.5 234.5,329.5 235.5,328.5 236.5,329.5 237.5,328.5 238.5,328.5 239.5,328.5 240.5,328.5 241.5,327.5 242.5,327.5 243.5,326.5 244.5,327.5 245.5,327.5 246.5,326.5 247.5,325.5 248.5,325.5 249.5,326.5 250.5,325.5 251.5,324.5 252.5,325.5 253.5,325.5 254.5,325.5 255.5,326.5 256.5,325.5 257.5,327.5 258.5,326.5 259.5,328.5 260.5,330.5 261.5,332.5 262.5,332.5 263.5,331.5 264.5,331.5 265.5,332.5 266.5,331.5 267.5,330.5 268.5,330.5 269.5,330.5 270.5,329.5 271.5,328.5 272.5,327.5 273.5,325.5 274.5,325.5 275.5,324.5 276.5,323.5 277.5,323.5 278.5,323.5 279.5,322.5 280.5,322.5 281.5,322.5 282.5,322.5 283.5,322.5 284.5,322.5 285.5,323.5 286.5,324.5 287.5,326.5 288.5,327.5 289.5,328.5 290.5,328.5 291.5,329.5 292.5,330.5 293.5,331.5 294.5,331.5 295.5,332.5 296.5,331.5 297.5,331.5 298.5,331.5 299.5,331.5 300.5,330.5 301.5,330.5 302.5,330.5 303.5,330.5 304.5,333.5 305.5,334.5 306.5,334.5 307.5,336.5 308.5,338.5 309.5,338.5 310.5,336.5 311.5,334.5 312.5,333.5 313.5,331.5 314.5,332.5 315.5,332.5 316.5,331.5 317.5,331.5 318.5,331.5 319.5,331.5 320.5,332.5 321.5,333.5 322.5,334.5 323.5,334.5 324.5,333.5 325.5,335.5 326.5,335.5 327.5,335.5 328.5,335.5 329.5,336.5 330.5,334.5 331.5,334.5 332.5,333.5 333.5,332.5 334.5,331.5 335.5,331.5 336.5,331.5 337.5,330.5 338.5,329.5 339.5,330.5 340.5,330.5 341.5,331.5 342.5,330.5 343.5,330.5 344.5,331.5 345.5,332.5 346.5,333.5 347.5,334.5 348.5,335.5 349.5,336.5 350.5,336.5 351.5,337.5 352.5,337.5 353.5,336.5 354.5,337.5 355.5,336.5 356.5,337.5 357.5,338.5 358.5,338.5 359.5,338.5 360.5,337.5 361.5,336.5 362.5,333.5 363.5,333.5 364.5,334.5 365.5,334.5 366.5,334.5 367.5,334.5 368.5,334.5 369.5,333.5 370.5,334.5 371.5,334.5 372.5,333.5 373.5,332.5 374.5,332.5 375.5,331.5 376.5,331.5 377.5,332.5 378.5,332.5 379.5,334.5 380.5,335.5 381.5,335.5 382.5,335.5 383.5,336.5 384.5,336.5 385.5,336.5 386.5,335.5 387.5,334.5 388.5,334.5 389.5,333.5 390.5,333.5 391.5,333.5 392.5,332.5 393.5,332.5 394.5,332.5 395.5,332.5 396.5,334.5 397.5,333.5 398.5,333.5 399.5,334.5 400.5,332.5 401.5,332.5 402.5,332.5 403.5,332.5 404.5,332.5 405.5,332.5 406.5,331.5 407.5,331.5 408.5,331.5 409.5,332.5 410.5,332.5 411.5,331.5 412.5,331.5 413.5,331.5 414.5,331.5 415.5,331.5 416.5,330.5 417.5,330.5 418.5,329.5 419.5,329.5 420.5,329.5 421.5,328.5 422.5,327.5 423.5,327.5 424.5,329.5 425.5,329.5 426.5,330.5 427.5,331.5 428.5,331.5 429.5,332.5 430.5,334.5 431.5,335.5 432.5,333.5 433.5,332.5 434.5,332.5 435.5,332.5 436.5,332.5 437.5,330.5 438.5,329.5 439.5,327.5 440.5,326.5 441.5,327.5 442.5,328.5 443.5,328.5 444.5,329.5 445.5,329.5 446.5,330.5 447.5,330.5 448.5,330.5 449.5,331.5 450.5,330.5 451.5,330.5 452.5,330.5 453.5,331.5 454.5,329.5 455.5,329.5 456.5,327.5 457.5,326.5 458.5,325.5 459.5,325.5 460.5,324.5 461.5,324.5 462.5,323.5 463.5,324.5 464.5,324.5 465.5,326.5 466.5,326.5 467.5,326.5 468.5,326.5 469.5,327.5 470.5,327.5 471.5,327.5 472.5,327.5 473.5,327.5 474.5,328.5 475.5,328.5 476.5,330.5 477.5,328.5 478.5,328.5 479.5,328.5 480.5,327.5 481.5,326.5 482.5,326.5 483.5,326.5 484.5,326.5 485.5,326.5 486.5,327.5 487.5,327.5 488.5,328.5 489.5,327.5 490.5,327.5 491.5,326.5 492.5,326.5 493.5,326.5 494.5,327.5 495.5,327.5 496.5,329.5 497.5,329.5 498.5,328.5 499.5,327.5 500.5,327.5 501.5,326.5 502.5,326.5 503.5,327.5 504.5,327.5 505.5,327.5 506.5,328.5 507.5,330.5 508.5,331.5 509.5,331.5 510.5,332.5 511.5,331.5 512.5,331.5 513.5,330.5 514.5,330.5 515.5,329.5 516.5,328.5 517.5,328.5 518.5,329.5 519.5,330.5 520.5,330.5 521.5,330.5 522.5,330.5 523.5,329.5 524.5,327.5 525.5,328.5 526.5,327.5 527.5,326.5 528.5,326.5 529.5,324.5 530.5,325.5 531.5,326.5 532.5,327.5 533.5,328.5 534.5,328.5 535.5,328.5 536.5,328.5 537.5,328.5 538.5,329.5 539.5,329.5 540.5,329.5 541.5,329.5 542.5,329.5 543.5,328.5 544.5,327.5 545.5,328.5 546.5,326.5 547.5,326.5 548.5,325.5 549.5,326.5 550.5,328.5 551.5,328.5 552.5,329.5 553.5,330.5 554.5,331.5 555.5,331.5 556.5,330.5 557.5,329.5 558.5,327.5 559.5,327.5 560.5,325.5 561.5,326.5 562.5,326.5 563.5,327.5 564.5,326.5 565.5,328.5 566.5,328.5 567.5,329.5 568.5,330.5 569.5,330.5 570.5,330.5 571.5,331.5 572.5,333.5 573.5,332.5 574.5,334.5 575.5,333.5 576.5,333.5 577.5,332.5 578.5,331.5 579.5,331.5 580.5,332.5 581.5,333.5 582.5,334.5 583.5,333.5 584.5,334.5 585.5,335.5 586.5,334.5 587.5,334.5 588.5,333.5 589.5,333.5 590.5,333.5 591.5,333.5 592.5,332.5 593.5,333.5 594.5,332.5 595.5,333.5 596.5,335.5 597.5,337.5 598.5,338.5 599.5,339.5 600.5,339.5 601.5,339.5 602.5,338.5 603.5,337.5 604.5,336.5 605.5,336.5 606.5,336.5 607.5,334.5 608.5,334.5 609.5,333.5 610.5,331.5 611.5,330.5 612.5,330.5 613.5,329.5 614.5,328.5 615.5,328.5 616.5,330.5 617.5,330.5 618.5,331.5 619.5,331.5 620.5,332.5 621.5,332.5 622.5,333.5 623.5,334.5 624.5,334.5 625.5,335.5 626.5,336.5 627.5,336.5 628.5,336.5 629.5,337.5 630.5,337.5 631.5,335.5 632.5,336.5 633.5,335.5 634.5,335.5 635.5,333.5 636.5,333.5 637.5,332.5 638.5,332.5 639.5,331.5 640.5,331.5 641.5,330.5 642.5,329.5 643.5,328.5 644.5,328.5 645.5,327.5 646.5,328.5 647.5,328.5 648.5,329.5 649.5,329.5 650.5,329.5 651.5,330.5 652.5,330.5 653.5,330.5 654.5,329.5 655.5,329.5 656.5,328.5 657.5,328.5 658.5,327.5 659.5,327.5 660.5,327.5 661.5,327.5 662.5,328.5 663.5,328.5 664.5,328.5 665.5,329.5 666.5,327.5 667.5,328.5 668.5,328.5 669.5,327.5 670.5,327.5 671.5,328.5 672.5,328.5 673.5,328.5 674.5,328.5 675.5,328.5 676.5,327.5 677.5,327.5 678.5,326.5 679.5,326.5 680.5,326.5 681.5,326.5 682.5,326.5 683.5,327.5 684.5,327.5 685.5,329.5 686.5,329.5 687.5,329.5 688.5,331.5 689.5,332.5 690.5,331.5 691.5,329.5 692.5,329.5 693.5,329.5 694.5,328.5 695.5,327.5 696.5,326.5 697.5,324.5" fill="none" stroke="#0000ff" stroke-width="1" shape-rendering="crispEdges"/>
<polyline points="35.5,277.5 36.5,277.5 37.5,277.5 38.5,277.5 39.5,276.5 40.5,277.5 41.5,277.5 42.5,279.5 43.5,279.5 44.5,280.5 45.5,281.5 46.5,281.5 47.5,281.5 48.5,282.5 49.5,281.5 50.5,281.5 51.5,281.5 52.5,281.5 53.5,283.5 54.5,282.5 55.5,283.5 56.5,283.5 57.5,284.5 58.5,284.5 59.5,285.5 60.5,283.5 61.5,284.5 62.5,284.5 63.5,283.5 64.5,281.5 65.5,281.5 66.5,281.5 67.5,280.5 68.5,280.5 69.5,279.5 70.5,278.5 71.5,276.5 72.5,278.5 73.5,277.5 74.5,277.5 75.5,278.5 76.5,278.5 77.5,279.5 78.5,279.5 79.5,280.5 80.5,280.5 81.5,280.5 82.5,283.5 83.5,282.5 84.5,283.5 85.5,283.5 86.5,284.5 87.5,286.5 88.5,284.5 89.5,283.5 90.5,282.5 91.5,282.5 92.5,282.5 93.5,279.5 94.5,279.5 95.5,278.5 96.5,276.5 97.5,274.5 98.5,274.5 99.5,275.5 100.5,276.5 101.5,276.5 102.5,277.5 103.5,276.5 104.5,275.5 105.5,276.5 106.5,275.5 107.5,275.5 108.5,274.5 109.5,275.5 110.5,275.5 111.5,275.5 112.5,276.5 113.5,277.5 114.5,277.5 115.5,277.5 116.5,277.5 117.5,275.5 118.5,275.5 119.5,275.5 120.5,274.5 121.5,273.5 122.5,272.5 123.5,272.5 124.5,270.5 125.5,270.5 126.5,270.5 127.5,269.5 128.5,269.5 129.5,270.5 130.5,272.5 131.5,271.5 132.5,270.5 133.5,271.5 134.5,270.5 135.5,270.5 136.5,271.5 137.5,271.5 138.5,271.5 139.5,272.5 140.5,275.5 141.5,275.5 142.5,275.5 143.5,275.5 144.5,276.5 145.5,276.5 146.5,277.5 147.5,277.5 148.5,277.5 149.5,276.5 150.5,275.5 151.5,274.5 152.5,273.5 153.5,273.5 154.5,274.5 155.5,273.5 156.5,274.5 157.5,273.5 158.5,273.5 159.5,272.5 160.5,275.5 161.5,275.5 162.5,276.5 163.5,276.5 164.5,275.5 165.5,275.5 166.5,274.5 167.5,274.5 168.5,274.5 169.5,273.5 170.5,272.5 171.5,273.5 172.5,272.5 173.5,271.5 174.5,273.5 175.5,274.5 176.5,274.5 177.5,275.5 178.5,276.5 179.5,277.5 180.5,277.5 181.5,278.5 182.5,277.5 183.5,275.5 184.5,276.5 185.5,273.5 186.5,272.5 187.5,272.5 188.5,271.5 189.5,270.5 190.5,269.5 191.5,268.5 192.5,268.5 193.5,269.5 194.5,270.5 195.5,270.5 196.5,272.5 197.5,272.5 198.5,273.5 199.5,274.5 200.5,275.5 201.5,275.5 202.5,276.5 203.5,276.5 204.5,277.5 205.5,279.5 206.5,278.5 207.5,275.5 208.5,274.5 209.5,273.5 210.5,272.5 211.5,272.5 212.5,272.5 213.5,272.5 214.5,271.5 215.5,270.5 216.5,268.5 217.5,268.5 218.5,266.5 219.5,265.5 220.5,265.5 221.5,266.5 222.5,268.5 223.5,269.5 224.5,270.5 225.5,272.5 226.5,274.5 227.5,275.5 228.5,277.5 229.5,277.5 230.5,276.5 231.5,274.5 232.5,272.5 233.5,271.5 234.5,270.5 235.5,267.5 236.5,266.5 237.5,266.5 238.5,264.5 239.5,263.5 240.5,265.5 241.5,264.5 242.5,266.5 243.5,266.5 244.5,267.5 245.5,269.5 246.5,269.5 247.5,270.5 248.5,269.5 249.5,271.5 250.5,271.5 251.5,270.5 252.5,271.5 253.5,273.5 254.5,274.5 255.5,275.5 256.5,275.5 257.5,276.5 258.5,277.5 259.5,277.5 260.5,275.5 261.5,275.5 262.5,273.5 263.5,274.5 264.5,273.5 265.5,271.5 266.5,271.5 267.5,273.5 268.5,274.5 269.5,274.5 270.5,275.5 271.5,276.5 272.5,275.5 273.5,275.5 274.5,276.5 275.5,276.5 276.5,275.5 277.5,274.5 278.5,274.5 279.5,273.5 280.5,274.5 281.5,276.5 282.5,276.5 283.5,277.5 284.5,277.5 285.5,279.5 286.5,279.5 287.5,280.5 288.5,281.5 289.5,280.5 290.5,282.5 291.5,281.5 292.5,282.5 293.5,282.5 294.5,283.5 295.5,283.5 296.5,280.5 297.5,280.5 298.5,279.5 299.5,279.5 300.5,281.5 301.5,281.5 302.5,282.5 303.5,283.5 304.5,285.5 305.5,285.5 306.5,287.5 307.5,288.5 308.5,289.5 309.5,287.5 310.5,287.5 311.5,285.5 312.5,284.5 313.5,282.5 314.5,281.5 315.5,280.5 316.5,279.5 317.5,278.5 318.5,278.5 319.5,278.5 320.5,278.5 321.5,279.5 322.5,280.5 323.5,280.5 324.5,281.5 325.5,282.5 326.5,283.5 327.5,284.5 328.5,283.5 329.5,282.5 330.5,281.5 331.5,279.5 332.5,278.5 333.5,278.5 334.5,277.5 335.5,276.5 336.5,274.5 337.5,273.5 338.5,271.5 339.5,269.5 340.5,269.5 341.5,268.5 342.5,269.5 343.5,269.5 344.5,270.5 345.5,268.5 346.5,269.5 347.5,269.5 348.5,269.5 349.5,270.5 350.5,271.5 351.5,272.5 352.5,271.5 353.5,272.5 354.5,272.5 355.5,270.5 356.5,269.5 357.5,269.5 358.5,268.5 359.5,267.5 360.5,268.5 361.5,269.5 362.5,270.5 363.5,269.5 364.5,268.5 365.5,268.5 366.5,269.5 367.5,268.5 368.5,268.5 369.5,269.5 370.5,269.5 371.5,270.5 372.5,270.5 373.5,269.5 374.5,270.5 375.5,270.5 376.5,271.5 377.5,271.5 378.5,272.5 379.5,271.5 380.5,272.5 381.5,271.5 382.5,270.5 383.5,270.5 384.5,270.5 385.5,271.5 386.5,271.5 387.5,271.5 388.5,270.5 389.5,270.5 390.5,268.5 391.5,268.5 392.5,269.5 393.5,269.5 394.5,269.5 395.5,270.5 396.5,273.5 397.5,271.5 398.5,271.5 399.5,270.5 400.5,271.5 401.5,270.5 402.5,270.5 403.5,270.5 404.5,270.5 405.5,270.5 406.5,271.5 407.5,270.5 408.5,270.5 409.5,271.5 410.5,272.5 411.5,271.5 412.5,272.5 413.5,272.5 414.5,273.5 415.5,274.5 416.5,274.5 417.5,271.5 418.5,270.5 419.5,269.5 420.5,270.5 421.5,270.5 422.5,270.5 423.5,269.5 424.5,269.5 425.5,269.5 426.5,269.5 427.5,270.5 428.5,270.5 429.5,270.5 430.5,271.5 431.5,271.5 432.5,272.5 433.5,271.5 434.5,272.5 435.5,272.5 436.5,270.5 437.5,269.5 438.5,267.5 439.5,265.5 440.5,265.5 441.5,265.5 442.5,266.5 443.5,268.5 444.5,267.5 445.5,267.5 446.5,267.5 447.5,267.5 448.5,266.5 449.5,267.5 450.5,267.5 451.5,266.5 452.5,267.5 453.5,266.5 454.5,269.5 455.5,269.5 456.5,269.5 457.5,268.5 458.5,267.5 459.5,267.5 460.5,268.5 461.5,268.5 462.5,268.5 463.5,269.5 464.5,268.5 465.5,269.5 466.5,269.5 467.5,269.5 468.5,267.5 469.5,267.5 470.5,266.5 471.5,265.5 472.5,265.5 473.5,265.5 474.5,265.5 475.5,265.5 476.5,266.5 477.5,265.5 478.5,267.5 479.5,266.5 480.5,267.5 481.5,266.5 482.5,267.5 483.5,266.5 484.5,266.5 485.5,265.5 486.5,266.5 487.5,267.5 488.5,269.5 489.5,270.5 490.5,271.5 491.5,271.5 492.5,273.5 493.5,275.5 494.5,276.5 495.5,277.5 496.5,279.5 497.5,279.5 498.5,278.5 499.5,278.5 500.5,277.5 501.5,276.5 502.5,274.5 503.5,274.5 504.5,275.5 505.5,275.5 506.5,275.5 507.5,275.5 508.5,276.5 509.5,276.5 510.5,277.5 511.5,277.5 512.5,278.5 513.5,277.5 514.5,277.5 515.5,278.5 516.5,279.5 517.5,279.5 518.5,280.5 519.5,281.5 520.5,281.5 521.5,281.5 522.5,279.5 523.5,278.5 524.5,278.5 525.5,279.5 526.5,278.5 527.5,280.5 528.5,280.5 529.5,280.5 530.5,280.5 531.5,279.5 532.5,279.5 533.5,278.5 534.5,278.5 535.5,279.5 536.5,278.5 537.5,279.5 538.5,278.5 539.5,279.5 540.5,279.5 541.5,278.5 542.5,277.5 543.5,278.5 544.5,279.5 545.5,278.5 546.5,278.5 547.5,277.5 548.5,279.5 549.5,279.5 550.5,279.5 551.5,280.5 552.5,281.5 553.5,282.5 554.5,282.5 555.5,282.5 556.5,281.5 557.5,281.5 558.5,279.5 559.5,279.5 560.5,279.5 561.5,278.5 562.5,276.5 563.5,275.5 564.5,275.5 565.5,275.5 566.5,276.5 567.5,276.5 568.5,276.5 569.5,276.5 570.5,276.5 571.5,278.5 572.5,278.5 573.5,278.5 574.5,278.5 575.5,278.5 576.5,277.5 577.5,276.5 578.5,275.5 579.5,273.5 580.5,274.5 581.5,273.5 582.5,274.5 583.5,274.5 584.5,274.5 585.5,274.5 586.5,273.5 587.5,272.5 588.5,271.5 589.5,271.5 590.5,273.5 591.5,273.5 592.5,274.5 593.5,274.5 594.5,275.5 595.5,273.5 596.5,274.5 597.5,274.5 598.5,275.5 599.5,274.5 600.5,275.5 601.5,275.5 602.5,274.5 603.5,274.5 604.5,273.5 605.5,273.5 606.5,274.5 607.5,273.5 608.5,273.5 609.5,274.5 610.5,273.5 611.5,273.5 612.5,273.5 613.5,274.5 614.5,274.5 615.5,272.5 616.5,271.5 617.5,272.5 618.5,272.5 619.5,271.5 620.5,272.5 621.5,271.5 622.5,270.5 623.5,268.5 624.5,269.5 625.5,269.5 626.5,271.5 627.5,270.5 628.5,271.5 629.5,272.5 630.5,274.5 631.5,274.5 632.5,274.5 633.5,275.5 634.5,276.5 635.5,276.5 636.5,277.5 637.5,276.5 638.5,276.5 639.5,276.5 640.5,274.5 641.5,273.5 642.5,271.5 643.5,272.5 644.5,272.5 645.5,271.5 646.5,271.5 647.5,270.5 648.5,269.5 649.5,268.5 650.5,270.5 651.5,272.5 652.5,273.5 653.5,275.5 654.5,276.5 655.5,276.5 656.5,274.5 657.5,273.5 658.5,273.5 659.5,272.5 660.5,272.5 661.5,271.5 662.5,271.5 663.5,270.5 664.5,271.5 665.5,271.5 666.5,270.5 667.5,272.5 668.5,272.5 669.5,271.5 670.5,273.5 671.5,274.5 672.5,275.5 673.5,276.5 674.5,274.5 675.5,272.5 676.5,272.5 677.5,270.5 678.5,269.5 679.5,268.5 680.5,268.5 681.5,269.5 682.5,270.5 683.5,269.5 684.5,271.5 685.5,270.5 686.5,271.5 687.5,270.5 688.5,269.5 689.5,269.5 690.5,269.5 691.5,269.5 692.5,267.5 693.5,266.5 694.5,266.5 695.5,266.5 696.5,266.5 697.5,266.5" fill="none" stroke="#00ffff" stroke-width="1" shape-rendering="crispEdges"/>
<polyline points="35.5,354.5 36.5,354.5 37.5,353.5 38.5,353.5 39.5,354.5 40.5,353.5 41.5,353.5 42.5,353.5 43.5,354.5 44.5,355.5 45.5,356.5 46.5,356.5 47.5,356.5 48.5,357.5 49.5,357.5 50.5,357.5 51.5,358.5 52.5,358.5 53.5,358.5 54.5,358.5 55.5,358.5 56.5,357.5 57.5,357.5 58.5,354.5 59.5,354.5 60.5,355.5 61.5,355.5 62.5,354.5 63.5,352.5 64.5,352.5 65.5,351.5 66.5,351.5 67.5,350.5 68.5,350.5 69.5,350.5 70.5,350.5 71.5,349.5 72.5,348.5 73.5,348.5 74.5,347.5 75.5,348.5 76.5,348.5 77.5,348.5 78.5,350.5 79.5,351.5 80.5,352.5 81.5,351.5 82.5,351.5 83.5,352.5 84.5,351.5 85.5,352.5 86.5,352.5 87.5,353.5 88.5,353.5 89.5,355.5 90.5,355.5 91.5,354.5 92.5,354.5 93.5,353.5 94.5,353.5 95.5,353.5 96.5,351.5 97.5,348.5 98.5,345.5 99.5,343.5 100.5,343.5 101.5,343.5 102.5,344.5 103.5,343.5 104.5,343.5 105.5,344.5 106.5,344.5 107.5,346.5 108.5,346.5 109.5,346.5 110.5,345.5 111.5,346.5 112.5,347.5 113.5,348.5 114.5,349.5 115.5,347.5 116.5,346.5 117.5,345.5 118.5,344.5 119.5,344.5 120.5,343.5 121.5,341.5 122.5,340.5 123.5,338.5 124.5,336.5 125.5,336.5 126.5,336.5 127.5,336.5 128.5,336.5 129.5,336.5 130.5,337.5 131.5,338.5 132.5,338.5 133.5,339.5 134.5,341.5 135.5,341.5 136.5,341.5 137.5,342.5 138.5,343.5 139.5,342.5 140.5,343.5 141.5,343.5 142.5,345.5 143.5,345.5 144.5,346.5 145.5,347.5 146.5,348.5 147.5,349.5 148.5,349.5 149.5,348.5 150.5,347.5 151.5,346.5 152.5,348.5 153.5,347.5 154.5,348.5 155.5,349.5 156.5,349.5 157.5,349.5 158.5,349.5 159.5,350.5 160.5,351.5 161.5,352.5 162.5,353.5 163.5,351.5 164.5,351.5 165.5,350.5 166.5,349.5 167.5,348.5 168.5,348.5 169.5,348.5 170.5,348.5 171.5,346.5 172.5,346.5 173.5,346.5 174.5,347.5 175.5,348.5 176.5,350.5 177.5,351.5 178.5,352.5 179.5,352.5 180.5,351.5 181.5,350.5 182.5,349.5 183.5,348.5 184.5,347.5 185.5,346.5 186.5,347.5 187.5,347.5 188.5,348.5 189.5,347.5 190.5,348.5 191.5,348.5 192.5,347.5 193.5,346.5 194.5,347.5 195.5,349.5 196.5,349.5 197.5,350.5 198.5,352.5 199.5,353.5 200.5,353.5 201.5,353.5 202.5,353.5 203.5,353.5 204.5,352.5 205.5,353.5 206.5,352.5 207.5,353.5 208.5,353.5 209.5,352.5 210.5,351.5 211.5,350.5 212.5,349.5 213.5,349.5 214.5,347.5 215.5,345.5 216.5,343.5 217.5,343.5 218.5,342.5 219.5,342.5 220.5,343.5 221.5,345.5 222.5,346.5 223.5,347.5 224.5,348.5 225.5,351.5 226.5,352.5 227.5,353.5 228.5,353.5 229.5,352.5 230.5,350.5 231.5,349.5 232.5,347.5 233.5,346.5 234.5,346.5 235.5,345.5 236.5,345.5 237.5,344.5 238.5,343.5 239.5,344.5 240.5,343.5 241.5,344.5 242.5,345.5 243.5,347.5 244.5,347.5 245.5,348.5 246.5,349.5 247.5,348.5 248.5,349.5 249.5,348.5 250.5,348.5 251.5,349.5 252.5,350.5 253.5,349.5 254.5,350.5 255.5,349.5 256.5,349.5 257.5,350.5 258.5,349.5 259.5,348.5 260.5,347.5 261.5,345.5 262.5,344.5 263.5,344.5 264.5,345.5 265.5,344.5 266.5,345.5 267.5,345.5 268.5,346.5 269.5,349.5 270.5,349.5 271.5,349.5 272.5,347.5 273.5,346.5 274.5,345.5 275.5,346.5 276.5,345.5 277.5,344.5 278.5,343.5 279.5,342.5 280.5,343.5 281.5,344.5 282.5,345.5 283.5,347.5 284.5,351.5 285.5,353.5 286.5,356.5 287.5,358.5 288.5,358.5 289.5,358.5 290.5,359.5 291.5,360.5 292.5,359.5 293.5,359.5 294.5,360.5 295.5,358.5 296.5,356.5 297.5,356.5 298.5,354.5 299.5,353.5 300.5,352.5 301.5,353.5 302.5,353.5 303.5,353.5 304.5,354.5 305.5,356.5 306.5,357.5 307.5,358.5 308.5,359.5 309.5,358.5 310.5,358.5 311.5,356.5 312.5,355.5 313.5,355.5 314.5,354.5 315.5,353.5 316.5,352.5 317.5,352.5 318.5,353.5 319.5,352.5 320.5,352.5 321.5,352.5 322.5,353.5 323.5,355.5 324.5,356.5 325.5,356.5 326.5,356.5 327.5,356.5 328.5,357.5 329.5,357.5 330.5,356.5 331.5,356.5 332.5,356.5 333.5,356.5 334.5,356.5 335.5,356.5 336.5,356.5 337.5,356.5 338.5,356.5 339.5,355.5 340.5,356.5 341.5,354.5 342.5,355.5 343.5,355.5 344.5,355.5 345.5,356.5 346.5,354.5 347.5,355.5 348.5,354.5 349.5,354.5 350.5,353.5 351.5,352.5 352.5,350.5 353.5,351.5 354.5,351.5 355.5,351.5 356.5,350.5 357.5,350.5 358.5,350.5 359.5,350.5 360.5,350.5 361.5,351.5 362.5,352.5 363.5,350.5 364.5,349.5 365.5,348.5 366.5,347.5 367.5,345.5 368.5,343.5 369.5,343.5 370.5,344.5 371.5,344.5 372.5,346.5 373.5,347.5 374.5,348.5 375.5,350.5 376.5,351.5 377.5,352.5 378.5,352.5 379.5,351.5 380.5,352.5 381.5,354.5 382.5,356.5 383.5,356.5 384.5,358.5 385.5,358.5 386.5,357.5 387.5,357.5 388.5,355.5 389.5,355.5 390.5,354.5 391.5,355.5 392.5,355.5 393.5,355.5 394.5,355.5 395.5,355.5 396.5,356.5 397.5,355.5 398.5,355.5 399.5,353.5 400.5,352.5 401.5,351.5 402.5,351.5 403.5,351.5 404.5,350.5 405.5,350.5 406.5,350.5 407.5,351.5 408.5,352.5 409.5,353.5 410.5,353.5 411.5,353.5 412.5,352.5 413.5,354.5 414.5,356.5 415.5,357.5 416.5,356.5 417.5,355.5 418.5,354.5 419.5,352.5 420.5,350.5 421.5,352.5 422.5,352.5 423.5,352.5 424.5,353.5 425.5,353.5 426.5,353.5 427.5,352.5 428.5,353.5 429.5,353.5 430.5,355.5 431.5,353.5 432.5,352.5 433.5,350.5 434.5,350.5 435.5,349.5 436.5,347.5 437.5,347.5 438.5,345.5 439.5,342.5 440.5,342.5 441.5,344.5 442.5,344.5 443.5,344.5 444.5,345.5 445.5,345.5 446.5,346.5 447.5,347.5 448.5,348.5 449.5,350.5 450.5,351.5 451.5,351.5 452.5,351.5 453.5,351.5 454.5,351.5 455.5,351.5 456.5,351.5 457.5,352.5 458.5,351.5 459.5,352.5 460.5,350.5 461.5,351.5 462.5,351.5 463.5,353.5 464.5,353.5 465.5,352.5 466.5,353.5 467.5,352.5 468.5,352.5 469.5,351.5 470.5,351.5 471.5,351.5 472.5,352.5 473.5,352.5 474.5,353.5 475.5,353.5 476.5,352.5 477.5,353.5 478.5,353.5 479.5,353.5 480.5,353.5 481.5,353.5 482.5,354.5 483.5,355.5 484.5,356.5 485.5,357.5 486.5,358.5 487.5,357.5 488.5,357.5 489.5,358.5 490.5,357.5 491.5,357.5 492.5,358.5 493.5,359.5 494.5,359.5 495.5,360.5 496.5,361.5 497.5,363.5 498.5,361.5 499.5,360.5 500.5,360.5 501.5,361.5 502.5,358.5 503.5,358.5 504.5,357.5 505.5,356.5 506.5,355.5 507.5,354.5 508.5,354.5 509.5,354.5 510.5,354.5 511.5,354.5 512.5,354.5 513.5,354.5 514.5,354.5 515.5,355.5 516.5,355.5 517.5,356.5 518.5,355.5 519.5,355.5 520.5,355.5 521.5,355.5 522.5,356.5 523.5,356.5 524.5,355.5 525.5,355.5 526.5,355.5 527.5,353.5 528.5,352.5 529.5,352.5 530.5,353.5 531.5,354.5 532.5,355.5 533.5,355.5 534.5,356.5 535.5,356.5 536.5,356.5 537.5,357.5 538.5,357.5 539.5,358.5 540.5,358.5 541.5,357.5 542.5,356.5 543.5,357.5 544.5,355.5 545.5,355.5 546.5,355.5 547.5,353.5 548.5,353.5 549.5,353.5 550.5,353.5 551.5,353.5 552.5,354.5 553.5,355.5 554.5,356.5 555.5,357.5 556.5,357.5 557.5,356.5 558.5,356.5 559.5,356.5 560.5,356.5 561.5,356.5 562.5,356.5 563.5,356.5 564.5,356.5 565.5,357.5 566.5,357.5 567.5,358.5 568.5,357.5 569.5,358.5 570.5,358.5 571.5,359.5 572.5,359.5 573.5,357.5 574.5,357.5 575.5,357.5 576.5,354.5 577.5,353.5 578.5,353.5 579.5,353.5 580.5,353.5 581.5,352.5 582.5,352.5 583.5,352.5 584.5,352.5 585.5,351.5 586.5,351.5 587.5,351.5 588.5,350.5 589.5,350.5 590.5,350.5 591.5,351.5 592.5,351.5 593.5,352.5 594.5,352.5 595.5,353.5 596.5,353.5 597.5,351.5 598.5,351.5 599.5,350.5 600.5,350.5 601.5,350.5 602.5,351.5 603.5,351.5 604.5,351.5 605.5,352.5 606.5,354.5 607.5,353.5 608.5,354.5 609.5,353.5 610.5,354.5 611.5,355.5 612.5,355.5 613.5,355.5 614.5,356.5 615.5,354.5 616.5,354.5 617.5,353.5 618.5,352.5 619.5,353.5 620.5,352.5 621.5,352.5 622.5,352.5 623.5,352.5 624.5,353.5 625.5,354.5 626.5,357.5 627.5,358.5 628.5,360.5 629.5,361.5 630.5,362.5 631.5,362.5 632.5,363.5 633.5,363.5 634.5,362.5 635.5,361.5 636.5,361.5 637.5,360.5 638.5,360.5 639.5,360.5 640.5,358.5 641.5,358.5 642.5,356.5 643.5,355.5 644.5,354.5 645.5,352.5 646.5,349.5 647.5,350.5 648.5,348.5 649.5,349.5 650.5,350.5 651.5,352.5 652.5,352.5 653.5,354.5 654.5,356.5 655.5,358.5 656.5,359.5 657.5,359.5 658.5,359.5 659.5,358.5 660.5,357.5 661.5,357.5 662.5,357.5 663.5,356.5 664.5,356.5 665.5,354.5 666.5,355.5 667.5,354.5 668.5,355.5 669.5,355.5 670.5,354.5 671.5,355.5 672.5,356.5 673.5,358.5 674.5,356.5 675.5,355.5 676.5,353.5 677.5,352.5 678.5,351.5 679.5,349.5 680.5,349.5 681.5,350.5 682.5,350.5 683.5,350.5 684.5,351.5 685.5,350.5 686.5,349.5 687.5,348.5 688.5,348.5 689.5,346.5 690.5,348.5 691.5,349.5 692.5,349.5 693.5,348.5 694.5,348.5 695.5,348.5 696.5,348.5 697.5,347.5" fill="none" stroke="#ff00ff" stroke-width="1" shape-rendering="crispEdges"/>
<polyline points="35.5,311.5 36.5,313.5 37.5,313.5 38.5,312.5 39.5,314.5 40.5,315.5 41.5,314.5 42.5,315.5 43.5,315.5 44.5,314.5 45.5,315.5 46.5,316.5 47.5,315.5 48.5,316.5 49.5,316.5 50.5,316.5 51.5,316.5 52.5,316.5 53.5,316.5 54.5,317.5 55.5,318.5 56.5,318.5 57.5,319.5 58.5,318.5 59.5,319.5 60.5,319.5 61.5,319.5 62.5,318.5 63.5,316.5 64.5,315.5 65.5,316.5 66.5,317.5 67.5,316.5 68.5,315.5 69.5,316.5 70.5,316.5 71.5,315.5 72.5,314.5 73.5,313.5 74.5,312.5 75.5,313.5 76.5,311.5 77.5,312.5 78.5,313.5 79.5,314.5 80.5,314.5 81.5,314.5 82.5,314.5 83.5,314.5 84.5,315.5 85.5,315.5 86.5,315.5 87.5,315.5 88.5,316.5 89.5,316.5 90.5,318.5 91.5,318.5 92.5,316.5 93.5,314.5 94.5,312.5 95.5,311.5 96.5,309.5 97.5,309.5 98.5,308.5 99.5,309.5 100.5,309.5 101.5,309.5 102.5,309.5 103.5,309.5 104.5,309.5 105.5,309.5 106.5,308.5 107.5,307.5 108.5,306.5 109.5,306.5 110.5,307.5 111.5,307.5 112.5,308.5 113.5,308.5 114.5,308.5 115.5,307.5 116.5,306.5 117.5,307.5 118.5,307.5 119.5,306.5 120.5,305.5 121.5,304.5 122.5,304.5 123.5,303.5 124.5,304.5 125.5,303.5 126.5,304.5 127.5,304.5 128.5,305.5 129.5,306.5 130.5,307.5 131.5,307.5 132.5,306.5 133.5,306.5 134.5,306.5 135.5,306.5 136.5,306.5 137.5,307.5 138.5,306.5 139.5,307.5 140.5,307.5 141.5,308.5 142.5,308.5 143.5,309.5 144.5,308.5 145.5,310.5 146.5,309.5 147.5,310.5 148.5,310.5 149.5,310.5 150.5,310.5 151.5,310.5 152.5,310.5 153.5,310.5 154.5,309.5 155.5,308.5 156.5,306.5 157.5,306.5 158.5,307.5 159.5,308.5 160.5,308.5 161.5,309.5 162.5,311.5 163.5,310.5 164.5,310.5 165.5,309.5 166.5,309.5 167.5,309.5 168.5,308.5 169.5,308.5 170.5,308.5 171.5,308.5 172.5,307.5 173.5,307.5 174.5,308.5 175.5,309.5 176.5,310.5 177.5,311.5 178.5,312.5 179.5,312.5 180.5,312.5 181.5,311.5 182.5,310.5 183.5,310.5 184.5,310.5 185.5,308.5 186.5,308.5 187.5,307.5 188.5,307.5 189.5,306.5 190.5,304.5 191.5,304.5 192.5,303.5 193.5,302.5 194.5,302.5 195.5,303.5 196.5,303.5 197.5,305.5 198.5,305.5 199.5,306.5 200.5,306.5 201.5,308.5 202.5,308.5 203.5,309.5 204.5,311.5 205.5,311.5 206.5,310.5 207.5,309.5 208.5,308.5 209.5,308.5 210.5,307.5 211.5,306.5 212.5,305.5 213.5,304.5 214.5,303.5 215.5,303.5 216.5,303.5 217.5,302.5 218.5,301.5 219.5,300.5 220.5,298.5 221.5,297.5 222.5,298.5 223.5,299.5 224.5,300.5 225.5,301.5 226.5,303.5 227.5,305.5 228.5,307.5 229.5,306.5 230.5,306.5 231.5,307.5 232.5,305.5 233.5,303.5 234.5,302.5 235.5,300.5 236.5,299.5 237.5,298.5 238.5,298.5 239.5,296.5 240.5,295.5 241.5,295.5 242.5,296.5 243.5,295.5 244.5,297.5 245.5,297.5 246.5,299.5 247.5,299.5 248.5,300.5 249.5,301.5 250.5,302.5 251.5,302.5 252.5,303.5 253.5,304.5 254.5,304.5 255.5,305.5 256.5,306.5 257.5,306.5 258.5,307.5 259.5,308.5 260.5,308.5 261.5,307.5 262.5,307.5 263.5,306.5 264.5,306.5 265.5,307.5 266.5,306.5 267.5,306.5 268.5,308.5 269.5,307.5 270.5,307.5 271.5,308.5 272.5,308.5 273.5,307.5 274.5,307.5 275.5,307.5 276.5,307.5 277.5,307.5 278.5,307.5 279.5,308.5 280.5,308.5 281.5,308.5 282.5,309.5 283.5,309.5 284.5,310.5 285.5,310.5 286.5,310.5 287.5,311.5 288.5,312.5 289.5,312.5 290.5,312.5 291.5,312.5 292.5,313.5 293.5,313.5 294.5,312.5 295.5,313.5 296.5,313.5 297.5,310.5 298.5,310.5 299.5,309.5 300.5,308.5 301.5,309.5 302.5,310.5 303.5,311.5 304.5,313.5 305.5,313.5 306.5,316.5 307.5,317.5 308.5,318.5 309.5,318.5 310.5,316.5 311.5,314.5 312.5,312.5 313.5,310.5 314.5,310.5 315.5,309.5 316.5,308.5 317.5,307.5 318.5,306.5 319.5,305.5 320.5,304.5 321.5,304.5 322.5,304.5 323.5,307.5 324.5,309.5 325.5,312.5 326.5,311.5 327.5,311.5 328.5,311.5 329.5,311.5 330.5,311.5 331.5,311.5 332.5,310.5 333.5,308.5 334.5,307.5 335.5,306.5 336.5,305.5 337.5,303.5 338.5,303.5 339.5,302.5 340.5,303.5 341.5,303.5 342.5,303.5 343.5,303.5 344.5,303.5 345.5,303.5 346.5,304.5 347.5,305.5 348.5,304.5 349.5,305.5 350.5,304.5 351.5,305.5 352.5,306.5 353.5,308.5 354.5,307.5 355.5,306.5 356.5,306.5 357.5,305.5 358.5,303.5 359.5,302.5 360.5,302.5 361.5,303.5 362.5,304.5 363.5,304.5 364.5,306.5 365.5,305.5 366.5,305.5 367.5,305.5 368.5,305.5 369.5,304.5 370.5,304.5 371.5,306.5 372.5,307.5 373.5,308.5 374.5,309.5 375.5,309.5 376.5,309.5 377.5,309.5 378.5,309.5 379.5,309.5 380.5,309.5 381.5,308.5 382.5,308.5 383.5,308.5 384.5,308.5 385.5,308.5 386.5,308.5 387.5,306.5 388.5,307.5 389.5,306.5 390.5,306.5 391.5,307.5 392.5,307.5 393.5,308.5 394.5,309.5 395.5,308.5 396.5,310.5 397.5,309.5 398.5,310.5 399.5,310.5 400.5,309.5 401.5,310.5 402.5,310.5 403.5,309.5 404.5,308.5 405.5,307.5 406.5,308.5 407.5,308.5 408.5,308.5 409.5,308.5 410.5,309.5 411.5,310.5 412.5,311.5 413.5,312.5 414.5,311.5 415.5,312.5 416.5,312.5 417.5,311.5 418.5,309.5 419.5,308.5 420.5,308.5 421.5,308.5 422.5,307.5 423.5,307.5 424.5,306.5 425.5,306.5 426.5,308.5 427.5,307.5 428.5,308.5 429.5,309.5 430.5,311.5 431.5,310.5 432.5,309.5 433.5,309.5 434.5,309.5 435.5,308.5 436.5,307.5 437.5,307.5 438.5,305.5 439.5,305.5 440.5,304.5 441.5,305.5 442.5,306.5 443.5,305.5 444.5,306.5 445.5,305.5 446.5,305.5 447.5,305.5 448.5,304.5 449.5,305.5 450.5,305.5 451.5,305.5 452.5,306.5 453.5,306.5 454.5,306.5 455.5,307.5 456.5,306.5 457.5,305.5 458.5,305.5 459.5,305.5 460.5,305.5 461.5,306.5 462.5,307.5 463.5,306.5 464.5,305.5 465.5,306.5 466.5,306.5 467.5,304.5 468.5,305.5 469.5,304.5 470.5,304.5 471.5,304.5 472.5,302.5 473.5,302.5 474.5,302.5 475.5,304.5 476.5,303.5 477.5,302.5 478.5,303.5 479.5,303.5 480.5,302.5 481.5,302.5 482.5,301.5 483.5,300.5 484.5,300.5 485.5,300.5 486.5,300.5 487.5,301.5 488.5,303.5 489.5,305.5 490.5,306.5 491.5,307.5 492.5,308.5 493.5,309.5 494.5,311.5 495.5,312.5 496.5,314.5 497.5,314.5 498.5,313.5 499.5,312.5 500.5,311.5 501.5,311.5 502.5,311.5 503.5,310.5 504.5,310.5 505.5,310.5 506.5,311.5 507.5,311.5 508.5,313.5 509.5,312.5 510.5,313.5 511.5,313.5 512.5,314.5 513.5,315.5 514.5,315.5 515.5,316.5 516.5,315.5 517.5,315.5 518.5,317.5 519.5,314.5 520.5,314.5 521.5,314.5 522.5,313.5 523.5,312.5 524.5,312.5 525.5,313.5 526.5,313.5 527.5,314.5 528.5,314.5 529.5,314.5 530.5,314.5 531.5,313.5 532.5,313.5 533.5,313.5 534.5,314.5 535.5,313.5 536.5,313.5 537.5,312.5 538.5,312.5 539.5,312.5 540.5,313.5 541.5,313.5 542.5,311.5 543.5,311.5 544.5,311.5 545.5,311.5 546.5,312.5 547.5,311.5 548.5,311.5 549.5,311.5 550.5,312.5 551.5,312.5 552.5,313.5 553.5,313.5 554.5,314.5 555.5,313.5 556.5,312.5 557.5,312.5 558.5,312.5 559.5,312.5 560.5,311.5 561.5,311.5 562.5,310.5 563.5,309.5 564.5,307.5 565.5,307.5 566.5,307.5 567.5,306.5 568.5,307.5 569.5,308.5 570.5,309.5 571.5,309.5 572.5,312.5 573.5,313.5 574.5,313.5 575.5,311.5 576.5,309.5 577.5,308.5 578.5,308.5 579.5,306.5 580.5,305.5 581.5,306.5 582.5,306.5 583.5,307.5 584.5,308.5 585.5,307.5 586.5,307.5 587.5,306.5 588.5,305.5 589.5,305.5 590.5,306.5 591.5,307.5 592.5,307.5 593.5,307.5 594.5,308.5 595.5,308.5 596.5,308.5 597.5,309.5 598.5,309.5 599.5,309.5 600.5,309.5 601.5,309.5 602.5,309.5 603.5,309.5 604.5,308.5 605.5,308.5 606.5,308.5 607.5,307.5 608.5,308.5 609.5,307.5 610.5,308.5 611.5,307.5 612.5,306.5 613.5,307.5 614.5,307.5 615.5,307.5 616.5,305.5 617.5,306.5 618.5,307.5 619.5,305.5 620.5,306.5 621.5,306.5 622.5,305.5 623.5,305.5 624.5,305.5 625.5,305.5 626.5,307.5 627.5,307.5 628.5,307.5 629.5,308.5 630.5,309.5 631.5,310.5 632.5,309.5 633.5,309.5 634.5,310.5 635.5,312.5 636.5,312.5 637.5,310.5 638.5,310.5 639.5,310.5 640.5,310.5 641.5,309.5 642.5,308.5 643.5,309.5 644.5,307.5 645.5,308.5 646.5,307.5 647.5,305.5 648.5,305.5 649.5,304.5 650.5,304.5 651.5,306.5 652.5,308.5 653.5,309.5 654.5,311.5 655.5,311.5 656.5,312.5 657.5,310.5 658.5,310.5 659.5,309.5 660.5,308.5 661.5,307.5 662.5,307.5 663.5,307.5 664.5,307.5 665.5,307.5 666.5,307.5 667.5,306.5 668.5,307.5 669.5,307.5 670.5,307.5 671.5,307.5 672.5,308.5 673.5,309.5 674.5,309.5 675.5,308.5 676.5,308.5 677.5,305.5 678.5,305.5 679.5,303.5 680.5,303.5 681.5,302.5 682.5,303.5 683.5,304.5 684.5,304.5 685.5,304.5 686.5,303.5 687.5,303.5 688.5,304.5 689.5,302.5 690.5,303.5 691.5,303.5 692.5,303.5 693.5,302.5 694.5,303.5 695.5,301.5 696.5,301.5 697.5,301.5" fill="none" stroke="#ffff00" stroke-width="1" shape-rendering="crispEdges"/>
<polyline points="35.5,308.5 36.5,309.5 37.5,309.5 38.5,309.5 39.5,310.5 40.5,312.5 41.5,312.5 42.5,312.5 43.5,313.5 44.5,312.5 45.5,311.5 46.5,313.5 47.5,314.5 48.5,313.5 49.5,314.5 50.5,314.5 51.5,315.5 52.5,314.5 53.5,313.5 54.5,314.5 55.5,315.5 56.5,315.5 57.5,314.5 58.5,315.5 59.5,316.5 60.5,314.5 61.5,314.5 62.5,314.5 63.5,314.5 64.5,312.5 65.5,312.5 66.5,311.5 67.5,310.5 68.5,310.5 69.5,311.5 70.5,312.5 71.5,311.5 72.5,310.5 73.5,309.5 74.5,307.5 75.5,308.5 76.5,309.5 77.5,309.5 78.5,309.5 79.5,311.5 80.5,309.5 81.5,310.5 82.5,311.5 83.5,311.5 84.5,311.5 85.5,311.5 86.5,312.5 87.5,312.5 88.5,313.5 89.5,312.5 90.5,312.5 91.5,312.5 92.5,311.5 93.5,309.5 94.5,307.5 95.5,305.5 96.5,304.5 97.5,303.5 98.5,304.5 99.5,303.5 100.5,302.5 101.5,303.5 102.5,303.5 103.5,304.5 104.5,304.5 105.5,304.5 106.5,302.5 107.5,300.5 108.5,298.5 109.5,299.5 110.5,298.5 111.5,298.5 112.5,299.5 113.5,300.5 114.5,300.5 115.5,299.5 116.5,298.5 117.5,299.5 118.5,298.5 119.5,298.5 120.5,297.5 121.5,297.5 122.5,296.5 123.5,296.5 124.5,296.5 125.5,295.5 126.5,295.5 127.5,295.5 128.5,296.5 129.5,295.5 130.5,295.5 131.5,295.5 132.5,295.5 133.5,296.5 134.5,297.5 135.5,297.5 136.5,297.5 137.5,298.5 138.5,298.5 139.5,298.5 140.5,298.5 141.5,299.5 142.5,300.5 143.5,299.5 144.5,298.5 145.5,299.5 146.5,301.5 147.5,301.5 148.5,301.5 149.5,301.5 150.5,302.5 151.5,302.5 152.5,301.5 153.5,299.5 154.5,299.5 155.5,299.5 156.5,299.5 157.5,299.5 158.5,299.5 159.5,300.5 160.5,300.5 161.5,302.5 162.5,303.5 163.5,301.5 164.5,300.5 165.5,301.5 166.5,301.5 167.5,301.5 168.5,300.5 169.5,300.5 170.5,299.5 171.5,298.5 172.5,298.5 173.5,300.5 174.5,300.5 175.5,302.5 176.5,303.5 177.5,304.5 178.5,304.5 179.5,305.5 180.5,305.5 181.5,303.5 182.5,302.5 183.5,300.5 184.5,299.5 185.5,299.5 186.5,297.5 187.5,297.5 188.5,297.5 189.5,295.5 190.5,296.5 191.5,294.5 192.5,294.5 193.5,294.5 194.5,294.5 195.5,295.5 196.5,294.5 197.5,295.5 198.5,296.5 199.5,297.5 200.5,298.5 201.5,300.5 202.5,300.5 203.5,302.5 204.5,303.5 205.5,302.5 206.5,301.5 207.5,300.5 208.5,299.5 209.5,299.5 210.5,298.5 211.5,299.5 212.5,298.5 213.5,298.5 214.5,297.5 215.5,295.5 216.5,293.5 217.5,293.5 218.5,291.5 219.5,290.5 220.5,288.5 221.5,290.5 222.5,292.5 223.5,293.5 224.5,295.5 225.5,297.5 226.5,298.5 227.5,300.5 228.5,301.5 229.5,300.5 230.5,300.5 231.5,300.5 232.5,298.5 233.5,297.5 234.5,295.5 235.5,293.5 236.5,291.5 237.5,291.5 238.5,290.5 239.5,289.5 240.5,288.5 241.5,287.5 242.5,288.5 243.5,290.5 244.5,290.5 245.5,291.5 246.5,292.5 247.5,293.5 248.5,294.5 249.5,296.5 250.5,296.5 251.5,298.5 252.5,298.5 253.5,299.5 254.5,300.5 255.5,300.5 256.5,301.5 257.5,302.5 258.5,302.5 259.5,304.5 260.5,303.5 261.5,303.5 262.5,305.5 263.5,304.5 264.5,303.5 265.5,303.5 266.5,301.5 267.5,302.5 268.5,303.5 269.5,304.5 270.5,305.5 271.5,304.5 272.5,304.5 273.5,303.5 274.5,302.5 275.5,303.5 276.5,303.5 277.5,303.5 278.5,303.5 279.5,304.5 280.5,304.5 281.5,305.5 282.5,305.5 283.5,305.5 284.5,306.5 285.5,306.5 286.5,305.5 287.5,306.5 288.5,307.5 289.5,307.5 290.5,309.5 291.5,309.5 292.5,311.5 293.5,312.5 294.5,314.5 295.5,315.5 296.5,313.5 297.5,311.5 298.5,310.5 299.5,308.5 300.5,307.5 301.5,307.5 302.5,309.5 303.5,310.5 304.5,310.5 305.5,311.5 306.5,313.5 307.5,316.5 308.5,316.5 309.5,316.5 310.5,314.5 311.5,314.5 312.5,312.5 313.5,310.5 314.5,309.5 315.5,309.5 316.5,308.5 317.5,307.5 318.5,306.5 319.5,305.5 320.5,303.5 321.5,303.5 322.5,305.5 323.5,306.5 324.5,308.5 325.5,309.5 326.5,309.5 327.5,309.5 328.5,308.5 329.5,309.5 330.5,308.5 331.5,307.5 332.5,306.5 333.5,304.5 334.5,302.5 335.5,302.5 336.5,300.5 337.5,299.5 338.5,299.5 339.5,298.5 340.5,298.5 341.5,299.5 342.5,299.5 343.5,299.5 344.5,298.5 345.5,299.5 346.5,301.5 347.5,300.5 348.5,300.5 349.5,300.5 350.5,300.5 351.5,301.5 352.5,302.5 353.5,302.5 354.5,301.5 355.5,300.5 356.5,300.5 357.5,299.5 358.5,299.5 359.5,299.5 360.5,299.5 361.5,298.5 362.5,297.5 363.5,297.5 364.5,298.5 365.5,299.5 366.5,298.5 367.5,298.5 368.5,299.5 369.5,299.5 370.5,299.5 371.5,300.5 372.5,301.5 373.5,302.5 374.5,302.5 375.5,302.5 376.5,302.5 377.5,301.5 378.5,299.5 379.5,300.5 380.5,300.5 381.5,300.5 382.5,299.5 383.5,299.5 384.5,300.5 385.5,299.5 386.5,299.5 387.5,299.5 388.5,299.5 389.5,299.5 390.5,298.5 391.5,298.5 392.5,299.5 393.5,299.5 394.5,301.5 395.5,302.5 396.5,301.5 397.5,302.5 398.5,302.5 399.5,302.5 400.5,302.5 401.5,303.5 402.5,302.5 403.5,302.5 404.5,302.5 405.5,302.5 406.5,301.5 407.5,302.5 408.5,301.5 409.5,300.5 410.5,301.5 411.5,303.5 412.5,303.5 413.5,305.5 414.5,305.5 415.5,303.5 416.5,302.5 417.5,301.5 418.5,299.5 419.5,299.5 420.5,299.5 421.5,298.5 422.5,298.5 423.5,298.5 424.5,297.5 425.5,297.5 426.5,299.5 427.5,300.5 428.5,300.5 429.5,302.5 430.5,303.5 431.5,302.5 432.5,300.5 433.5,300.5 434.5,300.5 435.5,300.5 436.5,299.5 437.5,298.5 438.5,296.5 439.5,296.5 440.5,296.5 441.5,298.5 442.5,298.5 443.5,299.5 444.5,299.5 445.5,299.5 446.5,300.5 447.5,300.5 448.5,300.5 449.5,300.5 450.5,300.5 451.5,300.5 452.5,299.5 453.5,300.5 454.5,299.5 455.5,298.5 456.5,298.5 457.5,298.5 458.5,299.5 459.5,299.5 460.5,299.5 461.5,299.5 462.5,298.5 463.5,298.5 464.5,298.5 465.5,298.5 466.5,299.5 467.5,299.5 468.5,298.5 469.5,298.5 470.5,298.5 471.5,297.5 472.5,297.5 473.5,297.5 474.5,297.5 475.5,297.5 476.5,297.5 477.5,298.5 478.5,298.5 479.5,299.5 480.5,299.5 481.5,297.5 482.5,297.5 483.5,297.5 484.5,296.5 485.5,296.5 486.5,296.5 487.5,298.5 488.5,298.5 489.5,299.5 490.5,300.5 491.5,301.5 492.5,302.5 493.5,304.5 494.5,306.5 495.5,309.5 496.5,310.5 497.5,310.5 498.5,309.5 499.5,307.5 500.5,306.5 501.5,307.5 502.5,307.5 503.5,306.5 504.5,306.5 505.5,307.5 506.5,308.5 507.5,308.5 508.5,309.5 509.5,309.5 510.5,309.5 511.5,308.5 512.5,308.5 513.5,310.5 514.5,310.5 515.5,309.5 516.5,310.5 517.5,310.5 518.5,310.5 519.5,310.5 520.5,309.5 521.5,309.5 522.5,309.5 523.5,309.5 524.5,309.5 525.5,309.5 526.5,308.5 527.5,309.5 528.5,309.5 529.5,309.5 530.5,309.5 531.5,309.5 532.5,311.5 533.5,311.5 534.5,310.5 535.5,311.5 536.5,311.5 537.5,311.5 538.5,311.5 539.5,310.5 540.5,309.5 541.5,310.5 542.5,310.5 543.5,310.5 544.5,310.5 545.5,308.5 546.5,308.5 547.5,308.5 548.5,309.5 549.5,309.5 550.5,310.5 551.5,310.5 552.5,311.5 553.5,312.5 554.5,312.5 555.5,312.5 556.5,312.5 557.5,310.5 558.5,310.5 559.5,310.5 560.5,309.5 561.5,310.5 562.5,310.5 563.5,308.5 564.5,308.5 565.5,306.5 566.5,306.5 567.5,305.5 568.5,306.5 569.5,305.5 570.5,306.5 571.5,307.5 572.5,307.5 573.5,308.5 574.5,308.5 575.5,306.5 576.5,306.5 577.5,305.5 578.5,302.5 579.5,301.5 580.5,298.5 581.5,300.5 582.5,302.5 583.5,303.5 584.5,302.5 585.5,301.5 586.5,302.5 587.5,301.5 588.5,301.5 589.5,302.5 590.5,302.5 591.5,303.5 592.5,302.5 593.5,301.5 594.5,303.5 595.5,303.5 596.5,303.5 597.5,302.5 598.5,302.5 599.5,301.5 600.5,301.5 601.5,302.5 602.5,301.5 603.5,301.5 604.5,301.5 605.5,300.5 606.5,300.5 607.5,300.5 608.5,300.5 609.5,300.5 610.5,300.5 611.5,300.5 612.5,301.5 613.5,300.5 614.5,300.5 615.5,300.5 616.5,299.5 617.5,299.5 618.5,299.5 619.5,298.5 620.5,299.5 621.5,298.5 622.5,298.5 623.5,300.5 624.5,299.5 625.5,299.5 626.5,299.5 627.5,301.5 628.5,302.5 629.5,303.5 630.5,304.5 631.5,304.5 632.5,304.5 633.5,303.5 634.5,303.5 635.5,304.5 636.5,303.5 637.5,304.5 638.5,303.5 639.5,303.5 640.5,302.5 641.5,301.5 642.5,300.5 643.5,300.5 644.5,300.5 645.5,300.5 646.5,299.5 647.5,298.5 648.5,298.5 649.5,299.5 650.5,301.5 651.5,301.5 652.5,302.5 653.5,302.5 654.5,303.5 655.5,304.5 656.5,305.5 657.5,303.5 658.5,303.5 659.5,302.5 660.5,301.5 661.5,301.5 662.5,301.5 663.5,302.5 664.5,301.5 665.5,301.5 666.5,301.5 667.5,300.5 668.5,302.5 669.5,302.5 670.5,303.5 671.5,304.5 672.5,305.5 673.5,305.5 674.5,304.5 675.5,303.5 676.5,301.5 677.5,302.5 678.5,299.5 679.5,299.5 680.5,298.5 681.5,298.5 682.5,298.5 683.5,299.5 684.5,298.5 685.5,299.5 686.5,300.5 687.5,300.5 688.5,298.5 689.5,300.5 690.5,300.5 691.5,299.5 692.5,299.5 693.5,299.5 694.5,299.5 695.5,299.5 696.5,299.5 697.5,298.5" fill="none" stroke="#ff7f00" stroke-width="1" shape-rendering="crispEdges"/>
<polyline points="35.5,307.5 36.5,307.5 37.5,308.5 38.5,306.5 39.5,307.5 40.5,308.5 41.5,308.5 42.5,307.5 43.5,307.5 44.5,308.5 45.5,309.5 46.5,310.5 47.5,311.5 48.5,311.5 49.5,311.5 50.5,312.5 51.5,311.5 52.5,311.5 53.5,311.5 54.5,310.5 55.5,310.5 56.5,311.5 57.5,310.5 58.5,312.5 59.5,311.5 60.5,311.5 61.5,311.5 62.5,310.5 63.5,310.5 64.5,309.5 65.5,309.5 66.5,309.5 67.5,309.5 68.5,309.5 69.5,309.5 70.5,309.5 71.5,308.5 72.5,306.5 73.5,306.5 74.5,305.5 75.5,306.5 76.5,308.5 77.5,308.5 78.5,308.5 79.5,309.5 80.5,310.5 81.5,311.5 82.5,311.5 83.5,310.5 84.5,310.5 85.5,311.5 86.5,310.5 87.5,312.5 88.5,312.5 89.5,313.5 90.5,313.5 91.5,313.5 92.5,311.5 93.5,309.5 94.5,308.5 95.5,305.5 96.5,305.5 97.5,305.5 98.5,304.5 99.5,304.5 100.5,303.5 101.5,303.5 102.5,301.5 103.5,302.5 104.5,302.5 105.5,302.5 106.5,301.5 107.5,300.5 108.5,300.5 109.5,300.5 110.5,300.5 111.5,299.5 112.5,300.5 113.5,301.5 114.5,302.5 115.5,301.5 116.5,300.5 117.5,301.5 118.5,300.5 119.5,300.5 120.5,300.5 121.5,298.5 122.5,297.5 123.5,297.5 124.5,297.5 125.5,296.5 126.5,296.5 127.5,297.5 128.5,297.5 129.5,298.5 130.5,298.5 131.5,298.5 132.5,299.5 133.5,298.5 134.5,299.5 135.5,299.5 136.5,299.5 137.5,301.5 138.5,300.5 139.5,300.5 140.5,301.5 141.5,301.5 142.5,301.5 143.5,301.5 144.5,303.5 145.5,303.5 146.5,302.5 147.5,303.5 148.5,304.5 149.5,303.5 150.5,302.5 151.5,303.5 152.5,302.5 153.5,302.5 154.5,301.5 155.5,299.5 156.5,299.5 157.5,299.5 158.5,300.5 159.5,301.5 160.5,302.5 161.5,302.5 162.5,304.5 163.5,303.5 164.5,303.5 165.5,302.5 166.5,301.5 167.5,301.5 168.5,301.5 169.5,300.5 170.5,300.5 171.5,299.5 172.5,299.5 173.5,299.5 174.5,301.5 175.5,302.5 176.5,303.5 177.5,305.5 178.5,306.5 179.5,306.5 180.5,306.5 181.5,305.5 182.5,303.5 183.5,302.5 184.5,300.5 185.5,299.5 186.5,298.5 187.5,298.5 188.5,297.5 189.5,297.5 190.5,296.5 191.5,294.5 192.5,294.5 193.5,293.5 194.5,294.5 195.5,295.5 196.5,295.5 197.5,297.5 198.5,299.5 199.5,300.5 200.5,300.5 201.5,302.5 202.5,303.5 203.5,304.5 204.5,304.5 205.5,304.5 206.5,302.5 207.5,302.5 208.5,300.5 209.5,298.5 210.5,298.5 211.5,299.5 212.5,297.5 213.5,298.5 214.5,297.5 215.5,295.5 216.5,293.5 217.5,292.5 218.5,290.5 219.5,289.5 220.5,287.5 221.5,289.5 222.5,291.5 223.5,291.5 224.5,293.5 225.5,294.5 226.5,296.5 227.5,298.5 228.5,299.5 229.5,299.5 230.5,300.5 231.5,300.5 232.5,297.5 233.5,295.5 234.5,293.5 235.5,292.5 236.5,292.5 237.5,291.5 238.5,291.5 239.5,288.5 240.5,288.5 241.5,288.5 242.5,288.5 243.5,289.5 244.5,289.5 245.5,289.5 246.5,289.5 247.5,290.5 248.5,290.5 249.5,291.5 250.5,291.5 251.5,291.5 252.5,292.5 253.5,293.5 254.5,294.5 255.5,295.5 256.5,296.5 257.5,297.5 258.5,298.5 259.5,300.5 260.5,300.5 261.5,301.5 262.5,302.5 263.5,301.5 264.5,300.5 265.5,301.5 266.5,300.5 267.5,298.5 268.5,299.5 269.5,300.5 270.5,301.5 271.5,300.5 272.5,300.5 273.5,299.5 274.5,299.5 275.5,298.5 276.5,299.5 277.5,298.5 278.5,298.5 279.5,298.5 280.5,298.5 281.5,298.5 282.5,299.5 283.5,300.5 284.5,299.5 285.5,301.5 286.5,302.5 287.5,301.5 288.5,302.5 289.5,304.5 290.5,304.5 291.5,305.5 292.5,307.5 293.5,308.5 294.5,309.5 295.5,307.5 296.5,307.5 297.5,307.5 298.5,304.5 299.5,305.5 300.5,303.5 301.5,304.5 302.5,306.5 303.5,307.5 304.5,308.5 305.5,309.5 306.5,310.5 307.5,312.5 308.5,314.5 309.5,312.5 310.5,310.5 311.5,309.5 312.5,308.5 313.5,305.5 314.5,306.5 315.5,303.5 316.5,302.5 317.5,303.5 318.5,303.5 319.5,302.5 320.5,302.5 321.5,302.5 322.5,303.5 323.5,303.5 324.5,305.5 325.5,307.5 326.5,306.5 327.5,307.5 328.5,306.5 329.5,306.5 330.5,306.5 331.5,304.5 332.5,302.5 333.5,302.5 334.5,301.5 335.5,300.5 336.5,299.5 337.5,298.5 338.5,297.5 339.5,296.5 340.5,296.5 341.5,296.5 342.5,297.5 343.5,297.5 344.5,299.5 345.5,299.5 346.5,300.5 347.5,301.5 348.5,300.5 349.5,302.5 350.5,301.5 351.5,301.5 352.5,302.5 353.5,301.5 354.5,301.5 355.5,299.5 356.5,300.5 357.5,299.5 358.5,298.5 359.5,298.5 360.5,299.5 361.5,298.5 362.5,297.5 363.5,298.5 364.5,297.5 365.5,299.5 366.5,299.5 367.5,300.5 368.5,300.5 369.5,302.5 370.5,302.5 371.5,303.5 372.5,303.5 373.5,304.5 374.5,305.5 375.5,305.5 376.5,304.5 377.5,304.5 378.5,303.5 379.5,302.5 380.5,302.5 381.5,302.5 382.5,302.5 383.5,303.5 384.5,303.5 385.5,303.5 386.5,302.5 387.5,302.5 388.5,302.5 389.5,300.5 390.5,299.5 391.5,298.5 392.5,299.5 393.5,301.5 394.5,302.5 395.5,304.5 396.5,303.5 397.5,302.5 398.5,302.5 399.5,302.5 400.5,302.5 401.5,303.5 402.5,303.5 403.5,302.5 404.5,301.5 405.5,301.5 406.5,302.5 407.5,303.5 408.5,303.5 409.5,304.5 410.5,303.5 411.5,304.5 412.5,304.5 413.5,304.5 414.5,305.5 415.5,307.5 416.5,305.5 417.5,304.5 418.5,303.5 419.5,302.5 420.5,302.5 421.5,301.5 422.5,300.5 423.5,299.5 424.5,298.5 425.5,299.5 426.5,301.5 427.5,301.5 428.5,302.5 429.5,302.5 430.5,302.5 431.5,302.5 432.5,302.5 433.5,302.5 434.5,301.5 435.5,301.5 436.5,300.5 437.5,298.5 438.5,296.5 439.5,295.5 440.5,295.5 441.5,296.5 442.5,297.5 443.5,296.5 444.5,297.5 445.5,298.5 446.5,297.5 447.5,297.5 448.5,297.5 449.5,297.5 450.5,298.5 451.5,299.5 452.5,298.5 453.5,297.5 454.5,297.5 455.5,297.5 456.5,297.5 457.5,296.5 458.5,296.5 459.5,296.5 460.5,296.5 461.5,296.5 462.5,296.5 463.5,297.5 464.5,296.5 465.5,296.5 466.5,295.5 467.5,296.5 468.5,296.5 469.5,295.5 470.5,296.5 471.5,296.5 472.5,297.5 473.5,297.5 474.5,297.5 475.5,298.5 476.5,298.5 477.5,299.5 478.5,298.5 479.5,298.5 480.5,298.5 481.5,297.5 482.5,296.5 483.5,296.5 484.5,295.5 485.5,295.5 486.5,294.5 487.5,295.5 488.5,295.5 489.5,297.5 490.5,298.5 491.5,299.5 492.5,301.5 493.5,303.5 494.5,305.5 495.5,306.5 496.5,307.5 497.5,306.5 498.5,305.5 499.5,304.5 500.5,303.5 501.5,302.5 502.5,304.5 503.5,303.5 504.5,303.5 505.5,304.5 506.5,305.5 507.5,305.5 508.5,306.5 509.5,306.5 510.5,307.5 511.5,307.5 512.5,308.5 513.5,309.5 514.5,309.5 515.5,309.5 516.5,309.5 517.5,309.5 518.5,308.5 519.5,308.5 520.5,308.5 521.5,309.5 522.5,308.5 523.5,307.5 524.5,306.5 525.5,306.5 526.5,307.5 527.5,307.5 528.5,306.5 529.5,306.5 530.5,306.5 531.5,306.5 532.5,308.5 533.5,308.5 534.5,308.5 535.5,308.5 536.5,308.5 537.5,307.5 538.5,309.5 539.5,309.5 540.5,309.5 541.5,308.5 542.5,308.5 543.5,308.5 544.5,307.5 545.5,306.5 546.5,306.5 547.5,305.5 548.5,306.5 549.5,308.5 550.5,309.5 551.5,309.5 552.5,309.5 553.5,309.5 554.5,310.5 555.5,309.5 556.5,309.5 557.5,309.5 558.5,309.5 559.5,308.5 560.5,307.5 561.5,306.5 562.5,307.5 563.5,306.5 564.5,304.5 565.5,304.5 566.5,303.5 567.5,303.5 568.5,303.5 569.5,305.5 570.5,305.5 571.5,306.5 572.5,307.5 573.5,308.5 574.5,309.5 575.5,309.5 576.5,306.5 577.5,305.5 578.5,303.5 579.5,301.5 580.5,299.5 581.5,301.5 582.5,303.5 583.5,303.5 584.5,302.5 585.5,302.5 586.5,301.5 587.5,301.5 588.5,300.5 589.5,299.5 590.5,300.5 591.5,301.5 592.5,302.5 593.5,303.5 594.5,303.5 595.5,303.5 596.5,303.5 597.5,302.5 598.5,303.5 599.5,302.5 600.5,303.5 601.5,303.5 602.5,303.5 603.5,301.5 604.5,301.5 605.5,300.5 606.5,301.5 607.5,300.5 608.5,299.5 609.5,299.5 610.5,301.5 611.5,300.5 612.5,300.5 613.5,301.5 614.5,302.5 615.5,301.5 616.5,301.5 617.5,301.5 618.5,300.5 619.5,299.5 620.5,299.5 621.5,300.5 622.5,299.5 623.5,298.5 624.5,298.5 625.5,299.5 626.5,299.5 627.5,300.5 628.5,299.5 629.5,301.5 630.5,302.5 631.5,302.5 632.5,303.5 633.5,304.5 634.5,304.5 635.5,303.5 636.5,303.5 637.5,303.5 638.5,303.5 639.5,302.5 640.5,302.5 641.5,301.5 642.5,299.5 643.5,300.5 644.5,299.5 645.5,299.5 646.5,299.5 647.5,298.5 648.5,298.5 649.5,299.5 650.5,299.5 651.5,300.5 652.5,301.5 653.5,301.5 654.5,302.5 655.5,304.5 656.5,305.5 657.5,304.5 658.5,303.5 659.5,302.5 660.5,301.5 661.5,299.5 662.5,300.5 663.5,300.5 664.5,299.5 665.5,299.5 666.5,299.5 667.5,300.5 668.5,301.5 669.5,302.5 670.5,302.5 671.5,303.5 672.5,303.5 673.5,304.5 674.5,303.5 675.5,301.5 676.5,299.5 677.5,298.5 678.5,298.5 679.5,297.5 680.5,295.5 681.5,295.5 682.5,296.5 683.5,297.5 684.5,297.5 685.5,297.5 686.5,297.5 687.5,297.5 688.5,295.5 689.5,296.5 690.5,297.5 691.5,297.5 692.5,297.5 693.5,296.5 694.5,296.5 695.5,296.5 696.5,296.5 697.5,296.5" fill="none" stroke="#96d200" stroke-width="1" shape-rendering="crispEdges"/>
<polyline points="35.5,393.5 36.5,392.5 37.5,392.5 38.5,390.5 39.5,391.5 40.5,391.5 41.5,392.5 42.5,392.5 43.5,392.5 44.5,392.5 45.5,392.5 46.5,392.5 47.5,392.5 48.5,391.5 49.5,392.5 50.5,392.5 51.5,391.5 52.5,392.5 53.5,392.5 54.5,391.5 55.5,391.5 56.5,392.5 57.5,392.5 58.5,393.5 59.5,393.5 60.5,393.5 61.5,393.5 62.5,392.5 63.5,391.5 64.5,390.5 65.5,390.5 66.5,390.5 67.5,390.5 68.5,388.5 69.5,388.5 70.5,387.5 71.5,388.5 72.5,388.5 73.5,387.5 74.5,387.5 75.5,388.5 76.5,389.5 77.5,390.5 78.5,390.5 79.5,390.5 80.5,391.5 81.5,393.5 82.5,393.5 83.5,395.5 84.5,396.5 85.5,396.5 86.5,396.5 87.5,395.5 88.5,396.5 89.5,396.5 90.5,394.5 91.5,394.5 92.5,393.5 93.5,393.5 94.5,392.5 95.5,391.5 96.5,389.5 97.5,388.5 98.5,386.5 99.5,386.5 100.5,385.5 101.5,385.5 102.5,385.5 103.5,386.5 104.5,387.5 105.5,387.5 106.5,387.5 107.5,389.5 108.5,389.5 109.5,390.5 110.5,390.5 111.5,390.5 112.5,389.5 113.5,389.5 114.5,389.5 115.5,388.5 116.5,389.5 117.5,389.5 118.5,388.5 119.5,388.5 120.5,388.5 121.5,388.5 122.5,388.5 123.5,388.5 124.5,388.5 125.5,386.5 126.5,387.5 127.5,386.5 128.5,384.5 129.5,386.5 130.5,386.5 131.5,388.5 132.5,388.5 133.5,389.5 134.5,389.5 135.5,389.5 136.5,389.5 137.5,389.5 138.5,388.5 139.5,389.5 140.5,389.5 141.5,390.5 142.5,392.5 143.5,391.5 144.5,392.5 145.5,391.5 146.5,390.5 147.5,389.5 148.5,389.5 149.5,388.5 150.5,387.5 151.5,388.5 152.5,390.5 153.5,391.5 154.5,391.5 155.5,391.5 156.5,390.5 157.5,388.5 158.5,388.5 159.5,386.5 160.5,388.5 161.5,388.5 162.5,390.5 163.5,390.5 164.5,391.5 165.5,392.5 166.5,393.5 167.5,392.5 168.5,391.5 169.5,390.5 170.5,390.5 171.5,389.5 172.5,388.5 173.5,389.5 174.5,389.5 175.5,391.5 176.5,393.5 177.5,394.5 178.5,395.5 179.5,396.5 180.5,396.5 181.5,395.5 182.5,393.5 183.5,392.5 184.5,390.5 185.5,390.5 186.5,390.5 187.5,389.5 188.5,387.5 189.5,387.5 190.5,386.5 191.5,385.5 192.5,384.5 193.5,385.5 194.5,385.5 195.5,386.5 196.5,387.5 197.5,388.5 198.5,388.5 199.5,389.5 200.5,390.5 201.5,391.5 202.5,391.5 203.5,392.5 204.5,392.5 205.5,393.5 206.5,392.5 207.5,390.5 208.5,389.5 209.5,388.5 210.5,387.5 211.5,386.5 212.5,386.5 213.5,385.5 214.5,383.5 215.5,381.5 216.5,380.5 217.5,379.5 218.5,379.5 219.5,378.5 220.5,378.5 221.5,378.5 222.5,379.5 223.5,379.5 224.5,380.5 225.5,382.5 226.5,383.5 227.5,384.5 228.5,385.5 229.5,386.5 230.5,385.5 231.5,383.5 232.5,382.5 233.5,381.5 234.5,381.5 235.5,381.5 236.5,379.5 237.5,379.5 238.5,377.5 239.5,375.5 240.5,373.5 241.5,373.5 242.5,373.5 243.5,373.5 244.5,374.5 245.5,374.5 246.5,374.5 247.5,375.5 248.5,374.5 249.5,376.5 250.5,375.5 251.5,376.5 252.5,378.5 253.5,377.5 254.5,379.5 255.5,379.5 256.5,379.5 257.5,380.5 258.5,381.5 259.5,381.5 260.5,382.5 261.5,383.5 262.5,383.5 263.5,381.5 264.5,381.5 265.5,380.5 266.5,379.5 267.5,378.5 268.5,378.5 269.5,377.5 270.5,376.5 271.5,376.5 272.5,377.5 273.5,377.5 274.5,376.5 275.5,375.5 276.5,374.5 277.5,373.5 278.5,372.5 279.5,371.5 280.5,372.5 281.5,375.5 282.5,376.5 283.5,378.5 284.5,379.5 285.5,378.5 286.5,378.5 287.5,379.5 288.5,380.5 289.5,381.5 290.5,381.5 291.5,381.5 292.5,381.5 293.5,380.5 294.5,380.5 295.5,380.5 296.5,379.5 297.5,378.5 298.5,377.5 299.5,376.5 300.5,375.5 301.5,377.5 302.5,378.5 303.5,381.5 304.5,381.5 305.5,382.5 306.5,384.5 307.5,384.5 308.5,383.5 309.5,382.5 310.5,381.5 311.5,379.5 312.5,379.5 313.5,377.5 314.5,377.5 315.5,376.5 316.5,376.5 317.5,377.5 318.5,377.5 319.5,378.5 320.5,378.5 321.5,379.5 322.5,378.5 323.5,380.5 324.5,381.5 325.5,381.5 326.5,381.5 327.5,379.5 328.5,380.5 329.5,378.5 330.5,377.5 331.5,377.5 332.5,377.5 333.5,379.5 334.5,378.5 335.5,378.5 336.5,379.5 337.5,379.5 338.5,380.5 339.5,380.5 340.5,378.5 341.5,379.5 342.5,380.5 343.5,379.5 344.5,379.5 345.5,379.5 346.5,379.5 347.5,379.5 348.5,380.5 349.5,380.5 350.5,379.5 351.5,379.5 352.5,380.5 353.5,380.5 354.5,378.5 355.5,378.5 356.5,376.5 357.5,375.5 358.5,377.5 359.5,378.5 360.5,378.5 361.5,379.5 362.5,380.5 363.5,382.5 364.5,382.5 365.5,381.5 366.5,381.5 367.5,381.5 368.5,382.5 369.5,382.5 370.5,382.5 371.5,382.5 372.5,382.5 373.5,384.5 374.5,385.5 375.5,386.5 376.5,386.5 377.5,386.5 378.5,386.5 379.5,385.5 380.5,385.5 381.5,386.5 382.5,385.5 383.5,386.5 384.5,386.5 385.5,385.5 386.5,385.5 387.5,384.5 388.5,383.5 389.5,383.5 390.5,383.5 391.5,383.5 392.5,383.5 393.5,382.5 394.5,381.5 395.5,383.5 396.5,384.5 397.5,384.5 398.5,386.5 399.5,387.5 400.5,388.5 401.5,387.5 402.5,388.5 403.5,388.5 404.5,388.5 405.5,387.5 406.5,388.5 407.5,387.5 408.5,387.5 409.5,387.5 410.5,387.5 411.5,388.5 412.5,387.5 413.5,387.5 414.5,388.5 415.5,388.5 416.5,389.5 417.5,388.5 418.5,388.5 419.5,387.5 420.5,386.5 421.5,385.5 422.5,383.5 423.5,383.5 424.5,383.5 425.5,383.5 426.5,384.5 427.5,384.5 428.5,385.5 429.5,386.5 430.5,387.5 431.5,388.5 432.5,386.5 433.5,386.5 434.5,386.5 435.5,386.5 436.5,384.5 437.5,383.5 438.5,381.5 439.5,380.5 440.5,381.5 441.5,381.5 442.5,381.5 443.5,381.5 444.5,381.5 445.5,383.5 446.5,382.5 447.5,382.5 448.5,381.5 449.5,381.5 450.5,381.5 451.5,381.5 452.5,381.5 453.5,380.5 454.5,379.5 455.5,380.5 456.5,380.5 457.5,380.5 458.5,380.5 459.5,379.5 460.5,379.5 461.5,379.5 462.5,379.5 463.5,381.5 464.5,381.5 465.5,381.5 466.5,380.5 467.5,380.5 468.5,378.5 469.5,378.5 470.5,377.5 471.5,378.5 472.5,378.5 473.5,378.5 474.5,378.5 475.5,378.5 476.5,379.5 477.5,379.5 478.5,379.5 479.5,380.5 480.5,379.5 481.5,378.5 482.5,376.5 483.5,374.5 484.5,371.5 485.5,370.5 486.5,371.5 487.5,373.5 488.5,374.5 489.5,376.5 490.5,377.5 491.5,378.5 492.5,378.5 493.5,380.5 494.5,380.5 495.5,380.5 496.5,380.5 497.5,380.5 498.5,380.5 499.5,381.5 500.5,381.5 501.5,382.5 502.5,382.5 503.5,381.5 504.5,381.5 505.5,381.5 506.5,381.5 507.5,382.5 508.5,381.5 509.5,381.5 510.5,381.5 511.5,382.5 512.5,382.5 513.5,382.5 514.5,382.5 515.5,383.5 516.5,383.5 517.5,383.5 518.5,384.5 519.5,383.5 520.5,383.5 521.5,382.5 522.5,381.5 523.5,381.5 524.5,382.5 525.5,381.5 526.5,382.5 527.5,382.5 528.5,382.5 529.5,381.5 530.5,380.5 531.5,380.5 532.5,379.5 533.5,379.5 534.5,378.5 535.5,380.5 536.5,379.5 537.5,379.5 538.5,379.5 539.5,377.5 540.5,377.5 541.5,377.5 542.5,377.5 543.5,376.5 544.5,376.5 545.5,375.5 546.5,374.5 547.5,374.5 548.5,375.5 549.5,376.5 550.5,377.5 551.5,378.5 552.5,379.5 553.5,379.5 554.5,379.5 555.5,378.5 556.5,378.5 557.5,378.5 558.5,378.5 559.5,378.5 560.5,378.5 561.5,377.5 562.5,377.5 563.5,376.5 564.5,375.5 565.5,376.5 566.5,376.5 567.5,376.5 568.5,376.5 569.5,377.5 570.5,379.5 571.5,380.5 572.5,380.5 573.5,381.5 574.5,383.5 575.5,381.5 576.5,381.5 577.5,380.5 578.5,378.5 579.5,379.5 580.5,378.5 581.5,378.5 582.5,378.5 583.5,378.5 584.5,378.5 585.5,378.5 586.5,377.5 587.5,378.5 588.5,377.5 589.5,378.5 590.5,378.5 591.5,379.5 592.5,379.5 593.5,379.5 594.5,378.5 595.5,379.5 596.5,380.5 597.5,380.5 598.5,380.5 599.5,380.5 600.5,380.5 601.5,382.5 602.5,381.5 603.5,382.5 604.5,381.5 605.5,381.5 606.5,382.5 607.5,380.5 608.5,381.5 609.5,380.5 610.5,379.5 611.5,378.5 612.5,380.5 613.5,380.5 614.5,380.5 615.5,380.5 616.5,381.5 617.5,381.5 618.5,382.5 619.5,381.5 620.5,381.5 621.5,381.5 622.5,381.5 623.5,381.5 624.5,379.5 625.5,381.5 626.5,380.5 627.5,381.5 628.5,381.5 629.5,382.5 630.5,383.5 631.5,383.5 632.5,382.5 633.5,382.5 634.5,382.5 635.5,381.5 636.5,382.5 637.5,382.5 638.5,381.5 639.5,381.5 640.5,381.5 641.5,380.5 642.5,380.5 643.5,381.5 644.5,380.5 645.5,382.5 646.5,380.5 647.5,380.5 648.5,379.5 649.5,379.5 650.5,379.5 651.5,381.5 652.5,381.5 653.5,381.5 654.5,382.5 655.5,383.5 656.5,384.5 657.5,383.5 658.5,382.5 659.5,381.5 660.5,380.5 661.5,380.5 662.5,380.5 663.5,380.5 664.5,379.5 665.5,377.5 666.5,377.5 667.5,378.5 668.5,377.5 669.5,377.5 670.5,378.5 671.5,379.5 672.5,380.5 673.5,380.5 674.5,381.5 675.5,380.5 676.5,380.5 677.5,379.5 678.5,379.5 679.5,379.5 680.5,379.5 681.5,378.5 682.5,377.5 683.5,377.5 684.5,376.5 685.5,378.5 686.5,377.5 687.5,376.5 688.5,375.5 689.5,376.5 690.5,374.5 691.5,376.5 692.5,375.5 693.5,376.5 694.5,375.5 695.5,375.5 696.5,375.5 697.5,376.5" fill="none" stroke="#00fa96" stroke-width="1" shape-rendering="crispEdges"/>
</g>
<g>
<text x="41.2" y="22" font-size="12.4" fill="#000" text-anchor="start" textLength="24.4" lengthAdjust="spacingAndGlyphs" >Bias</text>
<text x="70.2" y="22" font-size="12.4" fill="#000" text-anchor="start" textLength="51.4" lengthAdjust="spacingAndGlyphs" >evolution</text>
<text y="22" font-size="12.4"><tspan x="128.2" textLength="29.4" lengthAdjust="spacingAndGlyphs">GOES</tspan><tspan x="157.8" textLength="10.8" lengthAdjust="spacingAndGlyphs">-</tspan><tspan x="167.7" textLength="15.9" lengthAdjust="spacingAndGlyphs">18</tspan></text>
<text x="188.2" y="22" font-size="12.4" fill="#000" text-anchor="start" textLength="27.4" lengthAdjust="spacingAndGlyphs" >from</text>
<text x="221.7" y="22" font-size="12.4" fill="#000" text-anchor="start" textLength="44.9" lengthAdjust="spacingAndGlyphs" >PGE00P</text>
<text x="271.7" y="22" font-size="12.4" fill="#000" text-anchor="start" textLength="27.9" lengthAdjust="spacingAndGlyphs" >from</text>
<text x="305.7" y="22" font-size="12.4" fill="#000" text-anchor="start" textLength="46.9" lengthAdjust="spacingAndGlyphs" >pxyclear</text>
<text x="358.2" y="22" font-size="12.4" fill="#000" text-anchor="start" textLength="43.4" lengthAdjust="spacingAndGlyphs" >dataset</text>
<text x="406.7" y="22" font-size="12.4" fill="#000" text-anchor="start" textLength="30.9" lengthAdjust="spacingAndGlyphs" >using</text>
<text x="442.2" y="22" font-size="12.4" fill="#000" text-anchor="start" textLength="38.4" lengthAdjust="spacingAndGlyphs" >robust</text>
<text x="486.2" y="22" font-size="12.4" fill="#000" text-anchor="start" textLength="58.4" lengthAdjust="spacingAndGlyphs" >regression</text>
<text x="550.2" y="22" font-size="12.4" fill="#000" text-anchor="start" textLength="139.4" lengthAdjust="spacingAndGlyphs" >(diffBT@standard_value)</text>
<text x="26.6" y="107" font-size="9.8" fill="#000" text-anchor="start" textLength="6.4" lengthAdjust="spacingAndGlyphs" >2</text>
<text x="26.2" y="209" font-size="9.8" fill="#000" text-anchor="start" textLength="5.6" lengthAdjust="spacingAndGlyphs" >1</text>
<text x="26.4" y="311" font-size="9.8" fill="#000" text-anchor="start" textLength="6.0" lengthAdjust="spacingAndGlyphs" >0</text>
<text y="413" font-size="9.8"><tspan x="19.3" textLength="7.2" lengthAdjust="spacingAndGlyphs">-</tspan><tspan x="26.0" textLength="5.6" lengthAdjust="spacingAndGlyphs">1</tspan></text>
<text x="137.5" y="499" font-size="11" fill="#000" text-anchor="middle" textLength="48" lengthAdjust="spacingAndGlyphs" >01/07/23</text>
<text x="238.5" y="499" font-size="11" fill="#000" text-anchor="middle" textLength="48" lengthAdjust="spacingAndGlyphs" >01/12/23</text>
<text x="358.5" y="499" font-size="11" fill="#000" text-anchor="middle" textLength="48" lengthAdjust="spacingAndGlyphs" >01/06/24</text>
<text x="458.5" y="499" font-size="11" fill="#000" text-anchor="middle" textLength="48" lengthAdjust="spacingAndGlyphs" >01/11/24</text>
<text x="577.5" y="499" font-size="11" fill="#000" text-anchor="middle" textLength="48" lengthAdjust="spacingAndGlyphs" >01/05/25</text>
<text x="677.5" y="499" font-size="11" fill="#000" text-anchor="middle" textLength="48" lengthAdjust="spacingAndGlyphs" >01/10/25</text>
<text x="0" y="0" font-size="9.6" textLength="46.2" lengthAdjust="spacingAndGlyphs" transform="translate(10.9,430.6) rotate(-90)">difference</text>
<text x="0" y="0" font-size="9.6" textLength="40.2" lengthAdjust="spacingAndGlyphs" transform="translate(10.9,380.6) rotate(-90)">between</text>
<text x="0" y="0" font-size="9.6" textLength="16.2" lengthAdjust="spacingAndGlyphs" transform="translate(10.9,337.6) rotate(-90)">real</text>
<text x="0" y="0" font-size="9.6" textLength="36.2" lengthAdjust="spacingAndGlyphs" transform="translate(10.9,316.6) rotate(-90)">satellite</text>
<text x="0" y="0" font-size="9.6" textLength="11.2" lengthAdjust="spacingAndGlyphs" transform="translate(10.9,275.6) rotate(-90)">BT</text>
<text x="0" y="0" font-size="9.6" textLength="17.2" lengthAdjust="spacingAndGlyphs" transform="translate(10.9,260.6) rotate(-90)">and</text>
<text y="0" font-size="9.6" transform="translate(10.9,239.6) rotate(-90)"><tspan x="0.0" textLength="67.2" lengthAdjust="spacingAndGlyphs">ECMWF+RTTOV</tspan><tspan x="67.0" textLength="10.2" lengthAdjust="spacingAndGlyphs">-</tspan><tspan x="77.0" textLength="19.2" lengthAdjust="spacingAndGlyphs">11.2</tspan></text>
<text x="0" y="0" font-size="9.6" textLength="41.2" lengthAdjust="spacingAndGlyphs" transform="translate(10.9,139.6) rotate(-90)">synthetic</text>
<text x="0" y="0" font-size="9.6" textLength="12.2" lengthAdjust="spacingAndGlyphs" transform="translate(10.9,93.6) rotate(-90)">BT</text>
<text x="49.6" y="54" font-size="9.8" fill="#000000" text-anchor="start" textLength="28.2" lengthAdjust="spacingAndGlyphs" >IR03.9</text>
<rect x="83" y="53" width="17" height="1" fill="#000000"/>
<text x="105.6" y="54" font-size="9.8" fill="#ff0000" text-anchor="start" textLength="33" lengthAdjust="spacingAndGlyphs" >WV06.2</text>
<rect x="143" y="53" width="17" height="1" fill="#ff0000"/>
<text x="161.5" y="54" font-size="9.8" fill="#00ff00" text-anchor="start" textLength="33" lengthAdjust="spacingAndGlyphs" >WV06.9</text>
<rect x="199" y="53" width="17" height="1" fill="#00ff00"/>
<text x="217.5" y="54" font-size="9.8" fill="#0000ff" text-anchor="start" textLength="33" lengthAdjust="spacingAndGlyphs" >WV07.3</text>
<rect x="255" y="53" width="17" height="1" fill="#0000ff"/>
<text x="273.4" y="54" font-size="9.8" fill="#00ffff" text-anchor="start" textLength="28.8" lengthAdjust="spacingAndGlyphs" >IR08.6</text>
<rect x="307" y="53" width="17" height="1" fill="#00ffff"/>
<text x="329.4" y="54" font-size="9.8" fill="#ff00ff" text-anchor="start" textLength="28.8" lengthAdjust="spacingAndGlyphs" >IR09.6</text>
<rect x="363" y="53" width="17" height="1" fill="#ff00ff"/>
<text x="385.4" y="54" font-size="9.8" fill="#ffff00" text-anchor="start" textLength="28.8" lengthAdjust="spacingAndGlyphs" >IR10.4</text>
<rect x="419" y="53" width="17" height="1" fill="#ffff00"/>
<text x="441.3" y="54" font-size="9.8" fill="#ff7f00" text-anchor="start" textLength="28.8" lengthAdjust="spacingAndGlyphs" >IR11.2</text>
<rect x="475" y="53" width="17" height="1" fill="#ff7f00"/>
<text x="497.3" y="54" font-size="9.8" fill="#96d200" text-anchor="start" textLength="28.8" lengthAdjust="spacingAndGlyphs" >IR12.3</text>
<rect x="531" y="53" width="17" height="1" fill="#96d200"/>
<text x="553.2" y="54" font-size="9.8" fill="#00fa96" text-anchor="start" textLength="30.0" lengthAdjust="spacingAndGlyphs" >IR13.3</text>
<rect x="587" y="53" width="17" height="1" fill="#00fa96"/>
</g>
</svg>
</body></html>
